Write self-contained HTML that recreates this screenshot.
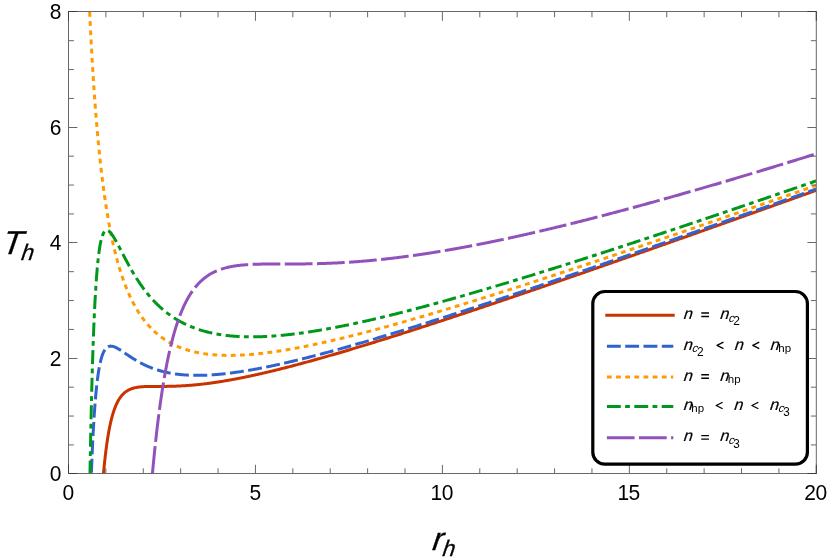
<!DOCTYPE html>
<html><head><meta charset="utf-8"><title>T_h vs r_h</title>
<style>html,body{margin:0;padding:0;background:#fff}body{width:830px;height:559px;overflow:hidden;position:relative;font-family:"Liberation Sans",sans-serif}</style>
</head><body>
<svg width="830" height="559" viewBox="0 0 830 559" style="position:absolute;left:0;top:0;will-change:transform">
<rect width="830" height="559" fill="#fff"/>
<defs><clipPath id="cp"><rect x="68.5" y="11.5" width="747.8" height="462.0"/></clipPath></defs>
<g clip-path="url(#cp)" fill="none" stroke-linejoin="round">
<path d="M103.46 473.80 L103.56 472.68 L103.69 471.23 L103.83 469.80 L103.96 468.41 L104.10 467.03 L104.23 465.69 L104.37 464.36 L104.50 463.06 L104.64 461.78 L104.77 460.53 L104.90 459.30 L105.04 458.09 L105.17 456.90 L105.31 455.73 L105.44 454.58 L105.58 453.45 L105.71 452.34 L105.85 451.25 L105.98 450.18 L106.12 449.13 L106.25 448.10 L106.39 447.08 L106.52 446.08 L106.66 445.10 L106.79 444.14 L106.93 443.19 L107.06 442.26 L107.19 441.34 L107.33 440.44 L107.46 439.56 L107.60 438.69 L107.73 437.83 L107.87 436.99 L108.00 436.17 L108.14 435.35 L108.27 434.56 L108.47 433.38 L108.68 432.24 L108.88 431.12 L109.08 430.04 L109.28 428.98 L109.48 427.94 L109.69 426.93 L109.89 425.95 L110.09 424.99 L110.29 424.06 L110.49 423.14 L110.70 422.25 L110.90 421.38 L111.10 420.54 L111.30 419.71 L111.50 418.90 L111.71 418.12 L111.98 417.09 L112.25 416.11 L112.51 415.15 L112.78 414.23 L113.05 413.33 L113.32 412.46 L113.59 411.62 L113.86 410.81 L114.13 410.02 L114.40 409.26 L114.74 408.34 L115.07 407.46 L115.41 406.61 L115.75 405.79 L116.08 405.01 L116.42 404.25 L116.83 403.39 L117.23 402.56 L117.63 401.77 L118.04 401.02 L118.44 400.31 L118.91 399.51 L119.38 398.76 L119.86 398.05 L120.33 397.38 L120.87 396.65 L121.40 395.97 L121.94 395.33 L122.48 394.73 L123.09 394.10 L123.69 393.51 L124.30 392.97 L124.97 392.40 L125.65 391.88 L126.32 391.40 L126.99 390.96 L127.74 390.51 L128.48 390.10 L129.22 389.73 L129.96 389.39 L130.70 389.08 L131.51 388.77 L132.31 388.50 L133.12 388.25 L133.93 388.02 L134.74 387.82 L135.55 387.64 L136.36 387.48 L137.16 387.33 L137.97 387.21 L138.78 387.09 L139.59 386.99 L140.40 386.90 L141.20 386.82 L142.01 386.76 L142.82 386.70 L143.63 386.65 L144.44 386.60 L145.25 386.56 L146.05 386.53 L146.86 386.51 L147.67 386.48 L148.48 386.47 L149.29 386.45 L150.09 386.44 L150.90 386.43 L151.71 386.42 L152.52 386.42 L153.33 386.41 L154.14 386.41 L154.94 386.41 L155.75 386.41 L156.56 386.41 L157.37 386.41 L158.18 386.41 L158.98 386.41 L159.79 386.41 L160.60 386.41 L161.41 386.41 L162.22 386.40 L163.03 386.40 L163.83 386.40 L164.64 386.39 L165.45 386.38 L166.26 386.38 L167.07 386.37 L167.87 386.35 L168.68 386.34 L169.49 386.33 L170.30 386.31 L171.11 386.29 L171.91 386.27 L172.72 386.25 L173.53 386.23 L174.34 386.20 L175.15 386.18 L175.96 386.15 L176.76 386.12 L177.57 386.09 L178.38 386.05 L179.19 386.01 L180.00 385.98 L181.09 385.92 L181.94 385.87 L182.79 385.83 L183.64 385.78 L184.49 385.73 L185.33 385.67 L186.18 385.61 L187.03 385.56 L187.88 385.49 L188.73 385.43 L189.57 385.37 L190.42 385.30 L191.27 385.23 L192.12 385.16 L192.97 385.08 L193.82 385.01 L194.66 384.93 L195.51 384.85 L196.36 384.76 L197.21 384.68 L198.06 384.59 L198.90 384.51 L199.75 384.41 L200.60 384.32 L201.45 384.23 L202.30 384.13 L203.14 384.03 L203.99 383.93 L204.84 383.83 L205.69 383.72 L206.54 383.62 L207.38 383.51 L208.23 383.40 L209.08 383.29 L209.93 383.17 L210.78 383.06 L211.62 382.94 L212.47 382.82 L213.32 382.70 L214.17 382.58 L215.02 382.46 L215.86 382.33 L216.71 382.20 L217.56 382.07 L218.41 381.94 L219.26 381.81 L220.11 381.68 L220.95 381.54 L221.80 381.40 L222.65 381.27 L223.50 381.13 L224.35 380.98 L225.19 380.84 L226.04 380.70 L226.89 380.55 L227.74 380.40 L228.59 380.25 L229.43 380.10 L230.28 379.95 L231.13 379.80 L231.98 379.64 L232.83 379.49 L233.67 379.33 L234.52 379.17 L235.37 379.01 L236.22 378.85 L237.07 378.69 L237.91 378.53 L238.76 378.36 L239.61 378.19 L240.46 378.03 L241.31 377.86 L242.16 377.69 L243.00 377.52 L243.85 377.35 L244.70 377.17 L245.55 377.00 L246.40 376.82 L247.24 376.65 L248.09 376.47 L248.94 376.29 L249.79 376.11 L250.64 375.93 L251.48 375.75 L252.33 375.56 L253.18 375.38 L254.03 375.19 L254.88 375.01 L255.72 374.82 L256.57 374.63 L257.42 374.44 L258.27 374.25 L259.12 374.06 L259.96 373.87 L260.81 373.68 L261.66 373.48 L262.51 373.29 L263.36 373.09 L264.21 372.90 L265.05 372.70 L265.90 372.50 L266.75 372.30 L267.60 372.10 L268.45 371.90 L269.29 371.70 L270.14 371.50 L270.99 371.29 L271.84 371.09 L272.69 370.88 L273.53 370.68 L274.38 370.47 L275.23 370.26 L276.08 370.06 L276.93 369.85 L277.77 369.64 L278.62 369.43 L279.47 369.21 L280.32 369.00 L281.17 368.79 L282.01 368.58 L282.86 368.36 L283.71 368.15 L284.56 367.93 L285.41 367.72 L286.25 367.50 L287.10 367.28 L287.95 367.06 L288.80 366.84 L289.65 366.63 L290.50 366.41 L291.34 366.18 L292.19 365.96 L293.04 365.74 L293.89 365.52 L294.74 365.29 L295.58 365.07 L296.43 364.85 L297.28 364.62 L298.13 364.40 L298.98 364.17 L299.82 363.94 L300.67 363.71 L301.52 363.49 L302.37 363.26 L303.22 363.03 L304.06 362.80 L304.91 362.57 L305.76 362.34 L306.61 362.11 L307.46 361.87 L308.30 361.64 L309.15 361.41 L310.00 361.18 L310.85 360.94 L311.70 360.71 L312.55 360.47 L313.39 360.24 L314.24 360.00 L315.09 359.76 L315.94 359.53 L316.79 359.29 L317.63 359.05 L318.48 358.81 L319.33 358.57 L320.18 358.34 L321.03 358.10 L321.87 357.86 L322.72 357.61 L323.57 357.37 L324.42 357.13 L325.27 356.89 L326.11 356.65 L326.96 356.40 L327.81 356.16 L328.66 355.92 L329.51 355.67 L330.35 355.43 L331.20 355.18 L332.05 354.94 L332.90 354.69 L333.75 354.45 L334.60 354.20 L335.44 353.95 L336.29 353.70 L337.14 353.46 L337.99 353.21 L338.84 352.96 L339.68 352.71 L340.53 352.46 L341.38 352.21 L342.23 351.96 L343.08 351.71 L343.92 351.46 L344.77 351.21 L345.62 350.96 L346.47 350.71 L347.32 350.45 L348.16 350.20 L349.01 349.95 L349.86 349.70 L350.71 349.44 L351.56 349.19 L352.40 348.93 L353.25 348.68 L354.10 348.42 L354.95 348.17 L355.80 347.91 L356.64 347.66 L357.49 347.40 L358.34 347.14 L359.19 346.89 L360.04 346.63 L360.89 346.37 L361.73 346.12 L362.58 345.86 L363.43 345.60 L364.28 345.34 L365.13 345.08 L365.97 344.82 L366.82 344.56 L367.67 344.30 L368.52 344.04 L369.37 343.78 L370.21 343.52 L371.06 343.26 L371.91 343.00 L372.76 342.74 L373.61 342.48 L374.45 342.21 L375.30 341.95 L376.15 341.69 L377.00 341.43 L377.85 341.16 L378.69 340.90 L379.54 340.64 L380.39 340.37 L381.24 340.11 L382.09 339.84 L382.94 339.58 L383.78 339.31 L384.63 339.05 L385.48 338.78 L386.33 338.52 L387.18 338.25 L388.02 337.99 L388.87 337.72 L389.72 337.45 L390.57 337.19 L391.42 336.92 L392.26 336.65 L393.11 336.39 L393.96 336.12 L394.81 335.85 L395.66 335.58 L396.50 335.31 L397.35 335.04 L398.20 334.78 L399.05 334.51 L399.90 334.24 L400.74 333.97 L401.59 333.70 L402.44 333.43 L403.29 333.16 L404.14 332.89 L404.99 332.62 L405.83 332.35 L406.68 332.08 L407.53 331.81 L408.38 331.53 L409.23 331.26 L410.07 330.99 L410.92 330.72 L411.77 330.45 L412.62 330.17 L413.47 329.90 L414.31 329.63 L415.16 329.36 L416.01 329.08 L416.86 328.81 L417.71 328.54 L418.55 328.26 L419.40 327.99 L420.25 327.72 L421.10 327.44 L421.95 327.17 L422.79 326.89 L423.64 326.62 L424.49 326.34 L425.34 326.07 L426.19 325.79 L427.03 325.52 L427.88 325.24 L428.73 324.97 L429.58 324.69 L430.43 324.41 L431.28 324.14 L432.12 323.86 L432.97 323.58 L433.82 323.31 L434.67 323.03 L435.52 322.75 L436.36 322.48 L437.21 322.20 L438.06 321.92 L438.91 321.64 L439.76 321.37 L440.60 321.09 L441.45 320.81 L442.30 320.53 L443.15 320.25 L444.00 319.98 L444.84 319.70 L445.69 319.42 L446.54 319.14 L447.39 318.86 L448.24 318.58 L449.08 318.30 L449.93 318.02 L450.78 317.74 L451.63 317.46 L452.48 317.18 L453.33 316.90 L454.17 316.62 L455.02 316.34 L455.87 316.06 L456.72 315.78 L457.57 315.50 L458.41 315.22 L459.26 314.94 L460.11 314.66 L460.96 314.37 L461.81 314.09 L462.65 313.81 L463.50 313.53 L464.35 313.25 L465.20 312.96 L466.05 312.68 L466.89 312.40 L467.74 312.12 L468.59 311.84 L469.44 311.55 L470.29 311.27 L471.13 310.99 L471.98 310.70 L472.83 310.42 L473.68 310.14 L474.53 309.85 L475.38 309.57 L476.22 309.29 L477.07 309.00 L477.92 308.72 L478.77 308.44 L479.62 308.15 L480.46 307.87 L481.31 307.58 L482.16 307.30 L483.01 307.01 L483.86 306.73 L484.70 306.44 L485.55 306.16 L486.40 305.87 L487.25 305.59 L488.10 305.30 L488.94 305.02 L489.79 304.73 L490.64 304.45 L491.49 304.16 L492.34 303.88 L493.18 303.59 L494.03 303.30 L494.88 303.02 L495.73 302.73 L496.58 302.45 L497.42 302.16 L498.27 301.87 L499.12 301.59 L499.97 301.30 L500.82 301.01 L501.67 300.73 L502.51 300.44 L503.36 300.15 L504.21 299.86 L505.06 299.58 L505.91 299.29 L506.75 299.00 L507.60 298.72 L508.45 298.43 L509.30 298.14 L510.15 297.85 L510.99 297.56 L511.84 297.28 L512.69 296.99 L513.54 296.70 L514.39 296.41 L515.23 296.12 L516.08 295.83 L516.93 295.55 L517.78 295.26 L518.63 294.97 L519.47 294.68 L520.32 294.39 L521.17 294.10 L522.02 293.81 L522.87 293.52 L523.72 293.23 L524.56 292.94 L525.41 292.66 L526.26 292.37 L527.11 292.08 L527.96 291.79 L528.80 291.50 L529.65 291.21 L530.50 290.92 L531.35 290.63 L532.20 290.34 L533.04 290.05 L533.89 289.76 L534.74 289.47 L535.59 289.18 L536.44 288.88 L537.28 288.59 L538.13 288.30 L538.98 288.01 L539.83 287.72 L540.68 287.43 L541.52 287.14 L542.37 286.85 L543.22 286.56 L544.07 286.27 L544.92 285.98 L545.77 285.68 L546.61 285.39 L547.46 285.10 L548.31 284.81 L549.16 284.52 L550.01 284.23 L550.85 283.93 L551.70 283.64 L552.55 283.35 L553.40 283.06 L554.25 282.77 L555.09 282.47 L555.94 282.18 L556.79 281.89 L557.64 281.60 L558.49 281.30 L559.33 281.01 L560.18 280.72 L561.03 280.43 L561.88 280.13 L562.73 279.84 L563.57 279.55 L564.42 279.26 L565.27 278.96 L566.12 278.67 L566.97 278.38 L567.81 278.08 L568.66 277.79 L569.51 277.50 L570.36 277.20 L571.21 276.91 L572.06 276.62 L572.90 276.32 L573.75 276.03 L574.60 275.74 L575.45 275.44 L576.30 275.15 L577.14 274.85 L577.99 274.56 L578.84 274.27 L579.69 273.97 L580.54 273.68 L581.38 273.38 L582.23 273.09 L583.08 272.80 L583.93 272.50 L584.78 272.21 L585.62 271.91 L586.47 271.62 L587.32 271.32 L588.17 271.03 L589.02 270.73 L589.86 270.44 L590.71 270.14 L591.56 269.85 L592.41 269.55 L593.26 269.26 L594.11 268.96 L594.95 268.67 L595.80 268.37 L596.65 268.08 L597.50 267.78 L598.35 267.49 L599.19 267.19 L600.04 266.90 L600.89 266.60 L601.74 266.31 L602.59 266.01 L603.43 265.71 L604.28 265.42 L605.13 265.12 L605.98 264.83 L606.83 264.53 L607.67 264.24 L608.52 263.94 L609.37 263.64 L610.22 263.35 L611.07 263.05 L611.91 262.76 L612.76 262.46 L613.61 262.16 L614.46 261.87 L615.31 261.57 L616.15 261.27 L617.00 260.98 L617.85 260.68 L618.70 260.38 L619.55 260.09 L620.40 259.79 L621.24 259.49 L622.09 259.20 L622.94 258.90 L623.79 258.60 L624.64 258.31 L625.48 258.01 L626.33 257.71 L627.18 257.42 L628.03 257.12 L628.88 256.82 L629.72 256.52 L630.57 256.23 L631.42 255.93 L632.27 255.63 L633.12 255.34 L633.96 255.04 L634.81 254.74 L635.66 254.44 L636.51 254.15 L637.36 253.85 L638.20 253.55 L639.05 253.25 L639.90 252.95 L640.75 252.66 L641.60 252.36 L642.45 252.06 L643.29 251.76 L644.14 251.47 L644.99 251.17 L645.84 250.87 L646.69 250.57 L647.53 250.27 L648.38 249.97 L649.23 249.68 L650.08 249.38 L650.93 249.08 L651.77 248.78 L652.62 248.48 L653.47 248.18 L654.32 247.89 L655.17 247.59 L656.01 247.29 L656.86 246.99 L657.71 246.69 L658.56 246.39 L659.41 246.09 L660.25 245.80 L661.10 245.50 L661.95 245.20 L662.80 244.90 L663.65 244.60 L664.50 244.30 L665.34 244.00 L666.19 243.70 L667.04 243.40 L667.89 243.11 L668.74 242.81 L669.58 242.51 L670.43 242.21 L671.28 241.91 L672.13 241.61 L672.98 241.31 L673.82 241.01 L674.67 240.71 L675.52 240.41 L676.37 240.11 L677.22 239.81 L678.06 239.51 L678.91 239.21 L679.76 238.91 L680.61 238.61 L681.46 238.31 L682.30 238.02 L683.15 237.72 L684.00 237.42 L684.85 237.12 L685.70 236.82 L686.54 236.52 L687.39 236.22 L688.24 235.92 L689.09 235.62 L689.94 235.32 L690.79 235.02 L691.63 234.72 L692.48 234.42 L693.33 234.12 L694.18 233.82 L695.03 233.52 L695.87 233.22 L696.72 232.91 L697.57 232.61 L698.42 232.31 L699.27 232.01 L700.11 231.71 L700.96 231.41 L701.81 231.11 L702.66 230.81 L703.51 230.51 L704.35 230.21 L705.20 229.91 L706.05 229.61 L706.90 229.31 L707.75 229.01 L708.59 228.71 L709.44 228.41 L710.29 228.11 L711.14 227.80 L711.99 227.50 L712.84 227.20 L713.68 226.90 L714.53 226.60 L715.38 226.30 L716.23 226.00 L717.08 225.70 L717.92 225.40 L718.77 225.10 L719.62 224.79 L720.47 224.49 L721.32 224.19 L722.16 223.89 L723.01 223.59 L723.86 223.29 L724.71 222.99 L725.56 222.69 L726.40 222.38 L727.25 222.08 L728.10 221.78 L728.95 221.48 L729.80 221.18 L730.64 220.88 L731.49 220.58 L732.34 220.27 L733.19 219.97 L734.04 219.67 L734.89 219.37 L735.73 219.07 L736.58 218.77 L737.43 218.46 L738.28 218.16 L739.13 217.86 L739.97 217.56 L740.82 217.26 L741.67 216.95 L742.52 216.65 L743.37 216.35 L744.21 216.05 L745.06 215.75 L745.91 215.44 L746.76 215.14 L747.61 214.84 L748.45 214.54 L749.30 214.24 L750.15 213.93 L751.00 213.63 L751.85 213.33 L752.69 213.03 L753.54 212.73 L754.39 212.42 L755.24 212.12 L756.09 211.82 L756.93 211.52 L757.78 211.21 L758.63 210.91 L759.48 210.61 L760.33 210.31 L761.18 210.00 L762.02 209.70 L762.87 209.40 L763.72 209.10 L764.57 208.79 L765.42 208.49 L766.26 208.19 L767.11 207.89 L767.96 207.58 L768.81 207.28 L769.66 206.98 L770.50 206.67 L771.35 206.37 L772.20 206.07 L773.05 205.77 L773.90 205.46 L774.74 205.16 L775.59 204.86 L776.44 204.55 L777.29 204.25 L778.14 203.95 L778.98 203.65 L779.83 203.34 L780.68 203.04 L781.53 202.74 L782.38 202.43 L783.23 202.13 L784.07 201.83 L784.92 201.52 L785.77 201.22 L786.62 200.92 L787.47 200.61 L788.31 200.31 L789.16 200.01 L790.01 199.71 L790.86 199.40 L791.71 199.10 L792.55 198.80 L793.40 198.49 L794.25 198.19 L795.10 197.88 L795.95 197.58 L796.79 197.28 L797.64 196.97 L798.49 196.67 L799.34 196.37 L800.19 196.06 L801.03 195.76 L801.88 195.46 L802.73 195.15 L803.58 194.85 L804.43 194.55 L805.28 194.24 L806.12 193.94 L806.97 193.63 L807.82 193.33 L808.67 193.03 L809.52 192.72 L810.36 192.42 L811.21 192.12 L812.06 191.81 L812.91 191.51 L813.76 191.20 L814.60 190.90 L815.45 190.60 L816.30 190.29" stroke="#CA3300" stroke-width="3.0"/>
<path d="M91.38 473.80 L91.44 472.28 L91.50 470.47 L91.57 468.69 L91.64 466.93 L91.70 465.20 L91.77 463.49 L91.84 461.81 L91.91 460.15 L91.97 458.51 L92.04 456.89 L92.11 455.30 L92.18 453.73 L92.24 452.19 L92.31 450.66 L92.38 449.16 L92.45 447.68 L92.51 446.21 L92.58 444.77 L92.65 443.35 L92.71 441.95 L92.78 440.57 L92.85 439.21 L92.92 437.86 L92.98 436.54 L93.05 435.23 L93.12 433.94 L93.19 432.67 L93.25 431.42 L93.32 430.18 L93.39 428.97 L93.46 427.76 L93.52 426.58 L93.59 425.41 L93.66 424.26 L93.73 423.12 L93.79 422.00 L93.86 420.89 L93.93 419.80 L93.99 418.73 L94.06 417.67 L94.13 416.62 L94.20 415.59 L94.26 414.57 L94.33 413.56 L94.40 412.57 L94.47 411.60 L94.53 410.63 L94.60 409.68 L94.67 408.75 L94.74 407.82 L94.80 406.91 L94.87 406.01 L94.94 405.12 L95.00 404.25 L95.07 403.38 L95.14 402.53 L95.21 401.69 L95.27 400.86 L95.34 400.04 L95.41 399.24 L95.54 397.66 L95.68 396.12 L95.81 394.62 L95.95 393.17 L96.08 391.75 L96.22 390.37 L96.35 389.03 L96.49 387.72 L96.62 386.45 L96.76 385.21 L96.89 384.01 L97.03 382.84 L97.16 381.70 L97.29 380.59 L97.43 379.51 L97.56 378.46 L97.70 377.44 L97.83 376.44 L97.97 375.47 L98.10 374.53 L98.24 373.62 L98.37 372.73 L98.51 371.86 L98.64 371.02 L98.78 370.20 L98.91 369.40 L99.11 368.24 L99.31 367.13 L99.52 366.07 L99.72 365.05 L99.92 364.07 L100.12 363.13 L100.33 362.24 L100.53 361.38 L100.73 360.55 L100.93 359.76 L101.20 358.76 L101.47 357.82 L101.74 356.93 L102.01 356.09 L102.28 355.30 L102.61 354.38 L102.95 353.53 L103.29 352.75 L103.69 351.88 L104.10 351.10 L104.50 350.39 L104.97 349.66 L105.51 348.93 L106.05 348.30 L106.66 347.71 L107.33 347.19 L108.07 346.75 L108.81 346.43 L109.62 346.22 L110.43 346.12 L111.24 346.13 L112.04 346.22 L112.85 346.38 L113.66 346.61 L114.47 346.90 L115.21 347.21 L115.95 347.55 L116.69 347.92 L117.43 348.32 L118.17 348.74 L118.91 349.18 L119.65 349.63 L120.39 350.10 L121.07 350.54 L121.74 350.98 L122.41 351.43 L123.09 351.88 L123.76 352.33 L124.44 352.79 L125.11 353.25 L125.78 353.71 L126.46 354.16 L127.13 354.62 L127.80 355.08 L128.48 355.53 L129.15 355.98 L129.82 356.43 L130.50 356.87 L131.17 357.31 L131.84 357.74 L132.58 358.21 L133.33 358.68 L134.07 359.14 L134.81 359.59 L135.55 360.04 L136.29 360.48 L137.03 360.91 L137.77 361.34 L138.51 361.75 L139.25 362.16 L139.99 362.57 L140.73 362.96 L141.47 363.35 L142.21 363.73 L142.96 364.10 L143.70 364.47 L144.44 364.83 L145.18 365.18 L145.92 365.52 L146.66 365.86 L147.40 366.18 L148.14 366.50 L148.88 366.82 L149.62 367.12 L150.43 367.45 L151.24 367.77 L152.05 368.08 L152.86 368.38 L153.66 368.67 L154.47 368.96 L155.28 369.24 L156.09 369.51 L156.90 369.77 L157.70 370.02 L158.51 370.27 L159.32 370.51 L160.13 370.74 L160.94 370.97 L161.75 371.19 L162.55 371.40 L163.36 371.60 L164.17 371.80 L164.98 371.99 L165.79 372.18 L166.59 372.36 L167.40 372.53 L168.21 372.70 L169.02 372.86 L169.83 373.01 L170.64 373.16 L171.44 373.31 L172.25 373.44 L173.06 373.58 L173.87 373.70 L174.68 373.82 L175.48 373.94 L176.29 374.05 L177.10 374.16 L177.91 374.26 L178.72 374.35 L179.53 374.44 L180.33 374.53 L181.52 374.65 L182.37 374.73 L183.21 374.80 L184.06 374.87 L184.91 374.93 L185.76 374.99 L186.61 375.04 L187.45 375.09 L188.30 375.14 L189.15 375.18 L190.00 375.22 L190.85 375.25 L191.69 375.28 L192.54 375.30 L193.39 375.32 L194.24 375.34 L195.09 375.35 L195.94 375.36 L196.78 375.36 L197.63 375.36 L198.48 375.36 L199.33 375.35 L200.18 375.34 L201.02 375.33 L201.87 375.31 L202.72 375.29 L203.57 375.27 L204.42 375.24 L205.26 375.21 L206.11 375.18 L206.96 375.14 L207.81 375.10 L208.66 375.06 L209.50 375.01 L210.35 374.96 L211.20 374.91 L212.05 374.86 L212.90 374.80 L213.74 374.74 L214.59 374.68 L215.44 374.61 L216.29 374.55 L217.14 374.48 L217.99 374.40 L218.83 374.33 L219.68 374.25 L220.53 374.17 L221.38 374.09 L222.23 374.00 L223.07 373.92 L223.92 373.83 L224.77 373.74 L225.62 373.64 L226.47 373.55 L227.31 373.45 L228.16 373.35 L229.01 373.24 L229.86 373.14 L230.71 373.03 L231.55 372.93 L232.40 372.81 L233.25 372.70 L234.10 372.59 L234.95 372.47 L235.79 372.35 L236.64 372.23 L237.49 372.11 L238.34 371.99 L239.19 371.86 L240.04 371.74 L240.88 371.61 L241.73 371.48 L242.58 371.34 L243.43 371.21 L244.28 371.07 L245.12 370.94 L245.97 370.80 L246.82 370.66 L247.67 370.52 L248.52 370.37 L249.36 370.23 L250.21 370.08 L251.06 369.93 L251.91 369.79 L252.76 369.63 L253.60 369.48 L254.45 369.33 L255.30 369.17 L256.15 369.02 L257.00 368.86 L257.84 368.70 L258.69 368.54 L259.54 368.38 L260.39 368.22 L261.24 368.05 L262.08 367.89 L262.93 367.72 L263.78 367.55 L264.63 367.39 L265.48 367.22 L266.33 367.04 L267.17 366.87 L268.02 366.70 L268.87 366.52 L269.72 366.35 L270.57 366.17 L271.41 365.99 L272.26 365.81 L273.11 365.63 L273.96 365.45 L274.81 365.27 L275.65 365.09 L276.50 364.90 L277.35 364.72 L278.20 364.53 L279.05 364.34 L279.89 364.16 L280.74 363.97 L281.59 363.78 L282.44 363.59 L283.29 363.39 L284.13 363.20 L284.98 363.01 L285.83 362.81 L286.68 362.62 L287.53 362.42 L288.38 362.22 L289.22 362.03 L290.07 361.83 L290.92 361.63 L291.77 361.43 L292.62 361.22 L293.46 361.02 L294.31 360.82 L295.16 360.62 L296.01 360.41 L296.86 360.21 L297.70 360.00 L298.55 359.79 L299.40 359.58 L300.25 359.38 L301.10 359.17 L301.94 358.96 L302.79 358.75 L303.64 358.53 L304.49 358.32 L305.34 358.11 L306.18 357.90 L307.03 357.68 L307.88 357.47 L308.73 357.25 L309.58 357.04 L310.43 356.82 L311.27 356.60 L312.12 356.38 L312.97 356.16 L313.82 355.95 L314.67 355.73 L315.51 355.50 L316.36 355.28 L317.21 355.06 L318.06 354.84 L318.91 354.62 L319.75 354.39 L320.60 354.17 L321.45 353.94 L322.30 353.72 L323.15 353.49 L323.99 353.27 L324.84 353.04 L325.69 352.81 L326.54 352.58 L327.39 352.35 L328.23 352.12 L329.08 351.90 L329.93 351.66 L330.78 351.43 L331.63 351.20 L332.47 350.97 L333.32 350.74 L334.17 350.51 L335.02 350.27 L335.87 350.04 L336.72 349.80 L337.56 349.57 L338.41 349.33 L339.26 349.10 L340.11 348.86 L340.96 348.63 L341.80 348.39 L342.65 348.15 L343.50 347.91 L344.35 347.67 L345.20 347.44 L346.04 347.20 L346.89 346.96 L347.74 346.72 L348.59 346.48 L349.44 346.23 L350.28 345.99 L351.13 345.75 L351.98 345.51 L352.83 345.27 L353.68 345.02 L354.52 344.78 L355.37 344.53 L356.22 344.29 L357.07 344.05 L357.92 343.80 L358.77 343.55 L359.61 343.31 L360.46 343.06 L361.31 342.82 L362.16 342.57 L363.01 342.32 L363.85 342.07 L364.70 341.83 L365.55 341.58 L366.40 341.33 L367.25 341.08 L368.09 340.83 L368.94 340.58 L369.79 340.33 L370.64 340.08 L371.49 339.83 L372.33 339.58 L373.18 339.32 L374.03 339.07 L374.88 338.82 L375.73 338.57 L376.57 338.31 L377.42 338.06 L378.27 337.81 L379.12 337.55 L379.97 337.30 L380.82 337.04 L381.66 336.79 L382.51 336.53 L383.36 336.28 L384.21 336.02 L385.06 335.77 L385.90 335.51 L386.75 335.25 L387.60 335.00 L388.45 334.74 L389.30 334.48 L390.14 334.22 L390.99 333.97 L391.84 333.71 L392.69 333.45 L393.54 333.19 L394.38 332.93 L395.23 332.67 L396.08 332.41 L396.93 332.15 L397.78 331.89 L398.62 331.63 L399.47 331.37 L400.32 331.11 L401.17 330.85 L402.02 330.59 L402.86 330.32 L403.71 330.06 L404.56 329.80 L405.41 329.54 L406.26 329.27 L407.11 329.01 L407.95 328.75 L408.80 328.48 L409.65 328.22 L410.50 327.96 L411.35 327.69 L412.19 327.43 L413.04 327.16 L413.89 326.90 L414.74 326.63 L415.59 326.37 L416.43 326.10 L417.28 325.83 L418.13 325.57 L418.98 325.30 L419.83 325.04 L420.67 324.77 L421.52 324.50 L422.37 324.23 L423.22 323.97 L424.07 323.70 L424.91 323.43 L425.76 323.16 L426.61 322.89 L427.46 322.63 L428.31 322.36 L429.16 322.09 L430.00 321.82 L430.85 321.55 L431.70 321.28 L432.55 321.01 L433.40 320.74 L434.24 320.47 L435.09 320.20 L435.94 319.93 L436.79 319.66 L437.64 319.39 L438.48 319.12 L439.33 318.85 L440.18 318.57 L441.03 318.30 L441.88 318.03 L442.72 317.76 L443.57 317.49 L444.42 317.21 L445.27 316.94 L446.12 316.67 L446.96 316.40 L447.81 316.12 L448.66 315.85 L449.51 315.58 L450.36 315.30 L451.20 315.03 L452.05 314.76 L452.90 314.48 L453.75 314.21 L454.60 313.93 L455.45 313.66 L456.29 313.38 L457.14 313.11 L457.99 312.83 L458.84 312.56 L459.69 312.28 L460.53 312.01 L461.38 311.73 L462.23 311.45 L463.08 311.18 L463.93 310.90 L464.77 310.63 L465.62 310.35 L466.47 310.07 L467.32 309.80 L468.17 309.52 L469.01 309.24 L469.86 308.96 L470.71 308.69 L471.56 308.41 L472.41 308.13 L473.25 307.85 L474.10 307.58 L474.95 307.30 L475.80 307.02 L476.65 306.74 L477.50 306.46 L478.34 306.18 L479.19 305.90 L480.04 305.63 L480.89 305.35 L481.74 305.07 L482.58 304.79 L483.43 304.51 L484.28 304.23 L485.13 303.95 L485.98 303.67 L486.82 303.39 L487.67 303.11 L488.52 302.83 L489.37 302.55 L490.22 302.27 L491.06 301.99 L491.91 301.71 L492.76 301.42 L493.61 301.14 L494.46 300.86 L495.30 300.58 L496.15 300.30 L497.00 300.02 L497.85 299.74 L498.70 299.45 L499.55 299.17 L500.39 298.89 L501.24 298.61 L502.09 298.33 L502.94 298.04 L503.79 297.76 L504.63 297.48 L505.48 297.20 L506.33 296.91 L507.18 296.63 L508.03 296.35 L508.87 296.06 L509.72 295.78 L510.57 295.50 L511.42 295.21 L512.27 294.93 L513.11 294.65 L513.96 294.36 L514.81 294.08 L515.66 293.79 L516.51 293.51 L517.35 293.22 L518.20 292.94 L519.05 292.66 L519.90 292.37 L520.75 292.09 L521.59 291.80 L522.44 291.52 L523.29 291.23 L524.14 290.95 L524.99 290.66 L525.84 290.38 L526.68 290.09 L527.53 289.80 L528.38 289.52 L529.23 289.23 L530.08 288.95 L530.92 288.66 L531.77 288.38 L532.62 288.09 L533.47 287.80 L534.32 287.52 L535.16 287.23 L536.01 286.94 L536.86 286.66 L537.71 286.37 L538.56 286.08 L539.40 285.80 L540.25 285.51 L541.10 285.22 L541.95 284.93 L542.80 284.65 L543.64 284.36 L544.49 284.07 L545.34 283.79 L546.19 283.50 L547.04 283.21 L547.89 282.92 L548.73 282.63 L549.58 282.35 L550.43 282.06 L551.28 281.77 L552.13 281.48 L552.97 281.19 L553.82 280.91 L554.67 280.62 L555.52 280.33 L556.37 280.04 L557.21 279.75 L558.06 279.46 L558.91 279.17 L559.76 278.88 L560.61 278.59 L561.45 278.31 L562.30 278.02 L563.15 277.73 L564.00 277.44 L564.85 277.15 L565.69 276.86 L566.54 276.57 L567.39 276.28 L568.24 275.99 L569.09 275.70 L569.94 275.41 L570.78 275.12 L571.63 274.83 L572.48 274.54 L573.33 274.25 L574.18 273.96 L575.02 273.67 L575.87 273.38 L576.72 273.09 L577.57 272.80 L578.42 272.51 L579.26 272.22 L580.11 271.92 L580.96 271.63 L581.81 271.34 L582.66 271.05 L583.50 270.76 L584.35 270.47 L585.20 270.18 L586.05 269.89 L586.90 269.60 L587.74 269.30 L588.59 269.01 L589.44 268.72 L590.29 268.43 L591.14 268.14 L591.98 267.85 L592.83 267.55 L593.68 267.26 L594.53 266.97 L595.38 266.68 L596.23 266.39 L597.07 266.09 L597.92 265.80 L598.77 265.51 L599.62 265.22 L600.47 264.92 L601.31 264.63 L602.16 264.34 L603.01 264.05 L603.86 263.75 L604.71 263.46 L605.55 263.17 L606.40 262.87 L607.25 262.58 L608.10 262.29 L608.95 262.00 L609.79 261.70 L610.64 261.41 L611.49 261.12 L612.34 260.82 L613.19 260.53 L614.03 260.24 L614.88 259.94 L615.73 259.65 L616.58 259.35 L617.43 259.06 L618.28 258.77 L619.12 258.47 L619.97 258.18 L620.82 257.89 L621.67 257.59 L622.52 257.30 L623.36 257.00 L624.21 256.71 L625.06 256.42 L625.91 256.12 L626.76 255.83 L627.60 255.53 L628.45 255.24 L629.30 254.94 L630.15 254.65 L631.00 254.35 L631.84 254.06 L632.69 253.77 L633.54 253.47 L634.39 253.18 L635.24 252.88 L636.08 252.59 L636.93 252.29 L637.78 252.00 L638.63 251.70 L639.48 251.41 L640.33 251.11 L641.17 250.82 L642.02 250.52 L642.87 250.22 L643.72 249.93 L644.57 249.63 L645.41 249.34 L646.26 249.04 L647.11 248.75 L647.96 248.45 L648.81 248.16 L649.65 247.86 L650.50 247.56 L651.35 247.27 L652.20 246.97 L653.05 246.68 L653.89 246.38 L654.74 246.08 L655.59 245.79 L656.44 245.49 L657.29 245.20 L658.13 244.90 L658.98 244.60 L659.83 244.31 L660.68 244.01 L661.53 243.71 L662.37 243.42 L663.22 243.12 L664.07 242.83 L664.92 242.53 L665.77 242.23 L666.62 241.94 L667.46 241.64 L668.31 241.34 L669.16 241.04 L670.01 240.75 L670.86 240.45 L671.70 240.15 L672.55 239.86 L673.40 239.56 L674.25 239.26 L675.10 238.97 L675.94 238.67 L676.79 238.37 L677.64 238.07 L678.49 237.78 L679.34 237.48 L680.18 237.18 L681.03 236.88 L681.88 236.59 L682.73 236.29 L683.58 235.99 L684.42 235.69 L685.27 235.40 L686.12 235.10 L686.97 234.80 L687.82 234.50 L688.67 234.21 L689.51 233.91 L690.36 233.61 L691.21 233.31 L692.06 233.01 L692.91 232.72 L693.75 232.42 L694.60 232.12 L695.45 231.82 L696.30 231.52 L697.15 231.23 L697.99 230.93 L698.84 230.63 L699.69 230.33 L700.54 230.03 L701.39 229.73 L702.23 229.44 L703.08 229.14 L703.93 228.84 L704.78 228.54 L705.63 228.24 L706.47 227.94 L707.32 227.64 L708.17 227.35 L709.02 227.05 L709.87 226.75 L710.72 226.45 L711.56 226.15 L712.41 225.85 L713.26 225.55 L714.11 225.25 L714.96 224.96 L715.80 224.66 L716.65 224.36 L717.50 224.06 L718.35 223.76 L719.20 223.46 L720.04 223.16 L720.89 222.86 L721.74 222.56 L722.59 222.26 L723.44 221.96 L724.28 221.66 L725.13 221.36 L725.98 221.07 L726.83 220.77 L727.68 220.47 L728.52 220.17 L729.37 219.87 L730.22 219.57 L731.07 219.27 L731.92 218.97 L732.76 218.67 L733.61 218.37 L734.46 218.07 L735.31 217.77 L736.16 217.47 L737.01 217.17 L737.85 216.87 L738.70 216.57 L739.55 216.27 L740.40 215.97 L741.25 215.67 L742.09 215.37 L742.94 215.07 L743.79 214.77 L744.64 214.47 L745.49 214.17 L746.33 213.87 L747.18 213.57 L748.03 213.27 L748.88 212.97 L749.73 212.67 L750.57 212.37 L751.42 212.07 L752.27 211.77 L753.12 211.47 L753.97 211.17 L754.81 210.86 L755.66 210.56 L756.51 210.26 L757.36 209.96 L758.21 209.66 L759.06 209.36 L759.90 209.06 L760.75 208.76 L761.60 208.46 L762.45 208.16 L763.30 207.86 L764.14 207.56 L764.99 207.26 L765.84 206.96 L766.69 206.65 L767.54 206.35 L768.38 206.05 L769.23 205.75 L770.08 205.45 L770.93 205.15 L771.78 204.85 L772.62 204.55 L773.47 204.25 L774.32 203.94 L775.17 203.64 L776.02 203.34 L776.86 203.04 L777.71 202.74 L778.56 202.44 L779.41 202.14 L780.26 201.84 L781.11 201.53 L781.95 201.23 L782.80 200.93 L783.65 200.63 L784.50 200.33 L785.35 200.03 L786.19 199.73 L787.04 199.42 L787.89 199.12 L788.74 198.82 L789.59 198.52 L790.43 198.22 L791.28 197.92 L792.13 197.61 L792.98 197.31 L793.83 197.01 L794.67 196.71 L795.52 196.41 L796.37 196.10 L797.22 195.80 L798.07 195.50 L798.91 195.20 L799.76 194.90 L800.61 194.59 L801.46 194.29 L802.31 193.99 L803.15 193.69 L804.00 193.39 L804.85 193.08 L805.70 192.78 L806.55 192.48 L807.40 192.18 L808.24 191.88 L809.09 191.57 L809.94 191.27 L810.79 190.97 L811.64 190.67 L812.48 190.36 L813.33 190.06 L814.18 189.76 L815.03 189.46 L815.88 189.15 L816.30 189.00" stroke="#3163CE" stroke-width="3.0" stroke-dasharray="13.965 4.421" stroke-dashoffset="-1.1"/>
<path d="M89.66 11.80 L89.75 13.83 L89.82 15.27 L89.89 16.69 L89.95 18.11 L90.02 19.52 L90.09 20.91 L90.16 22.30 L90.22 23.68 L90.29 25.05 L90.36 26.41 L90.43 27.77 L90.49 29.11 L90.56 30.45 L90.63 31.77 L90.69 33.09 L90.76 34.40 L90.83 35.70 L90.90 37.00 L90.96 38.28 L91.03 39.56 L91.10 40.83 L91.17 42.09 L91.23 43.34 L91.30 44.59 L91.37 45.83 L91.44 47.06 L91.50 48.28 L91.57 49.50 L91.64 50.71 L91.70 51.91 L91.77 53.10 L91.84 54.29 L91.91 55.47 L91.97 56.64 L92.04 57.80 L92.11 58.96 L92.18 60.11 L92.24 61.26 L92.31 62.39 L92.38 63.52 L92.45 64.65 L92.51 65.77 L92.58 66.88 L92.65 67.98 L92.71 69.08 L92.78 70.17 L92.85 71.26 L92.92 72.33 L92.98 73.41 L93.05 74.47 L93.12 75.53 L93.19 76.59 L93.25 77.64 L93.32 78.68 L93.39 79.72 L93.46 80.75 L93.52 81.77 L93.59 82.79 L93.66 83.80 L93.73 84.81 L93.79 85.81 L93.86 86.81 L93.93 87.80 L93.99 88.79 L94.06 89.77 L94.13 90.74 L94.20 91.71 L94.26 92.67 L94.33 93.63 L94.40 94.59 L94.47 95.53 L94.53 96.48 L94.60 97.42 L94.67 98.35 L94.74 99.28 L94.80 100.20 L94.87 101.12 L94.94 102.03 L95.00 102.94 L95.07 103.84 L95.14 104.74 L95.21 105.63 L95.27 106.52 L95.34 107.41 L95.41 108.29 L95.48 109.16 L95.54 110.03 L95.61 110.90 L95.68 111.76 L95.75 112.62 L95.81 113.47 L95.88 114.32 L95.95 115.16 L96.01 116.00 L96.08 116.84 L96.15 117.67 L96.22 118.50 L96.28 119.32 L96.35 120.14 L96.42 120.95 L96.49 121.76 L96.55 122.57 L96.62 123.37 L96.69 124.17 L96.82 125.75 L96.96 127.32 L97.09 128.87 L97.23 130.41 L97.36 131.93 L97.50 133.44 L97.63 134.93 L97.77 136.41 L97.90 137.87 L98.04 139.32 L98.17 140.76 L98.30 142.18 L98.44 143.59 L98.57 144.99 L98.71 146.37 L98.84 147.74 L98.98 149.10 L99.11 150.44 L99.25 151.77 L99.38 153.09 L99.52 154.40 L99.65 155.70 L99.79 156.98 L99.92 158.25 L100.06 159.51 L100.19 160.76 L100.33 162.00 L100.46 163.23 L100.59 164.44 L100.73 165.65 L100.86 166.85 L101.00 168.03 L101.13 169.20 L101.27 170.37 L101.40 171.52 L101.54 172.67 L101.67 173.80 L101.81 174.93 L101.94 176.04 L102.08 177.15 L102.21 178.24 L102.35 179.33 L102.48 180.41 L102.61 181.48 L102.75 182.54 L102.88 183.59 L103.02 184.63 L103.15 185.66 L103.29 186.69 L103.42 187.71 L103.56 188.72 L103.69 189.72 L103.83 190.71 L103.96 191.69 L104.10 192.67 L104.23 193.64 L104.37 194.60 L104.50 195.55 L104.64 196.50 L104.77 197.44 L104.90 198.37 L105.04 199.29 L105.17 200.21 L105.31 201.11 L105.44 202.02 L105.58 202.91 L105.71 203.80 L105.85 204.68 L105.98 205.56 L106.12 206.42 L106.25 207.29 L106.39 208.14 L106.52 208.99 L106.66 209.83 L106.79 210.67 L106.93 211.49 L107.06 212.32 L107.19 213.13 L107.33 213.94 L107.46 214.75 L107.60 215.55 L107.73 216.34 L107.94 217.52 L108.14 218.69 L108.34 219.84 L108.54 220.98 L108.74 222.11 L108.95 223.22 L109.15 224.33 L109.35 225.42 L109.55 226.50 L109.75 227.57 L109.96 228.63 L110.16 229.67 L110.36 230.71 L110.56 231.74 L110.76 232.75 L110.97 233.75 L111.17 234.75 L111.37 235.73 L111.57 236.71 L111.77 237.67 L111.98 238.62 L112.18 239.57 L112.38 240.50 L112.58 241.43 L112.78 242.35 L112.99 243.25 L113.19 244.15 L113.39 245.04 L113.59 245.92 L113.79 246.80 L114.00 247.66 L114.20 248.51 L114.40 249.36 L114.60 250.20 L114.80 251.03 L115.01 251.86 L115.21 252.67 L115.41 253.48 L115.61 254.28 L115.81 255.07 L116.02 255.86 L116.22 256.63 L116.49 257.66 L116.76 258.67 L117.03 259.67 L117.30 260.66 L117.57 261.64 L117.84 262.60 L118.10 263.56 L118.37 264.50 L118.64 265.43 L118.91 266.35 L119.18 267.26 L119.45 268.16 L119.72 269.04 L119.99 269.92 L120.26 270.79 L120.53 271.64 L120.80 272.49 L121.07 273.33 L121.34 274.15 L121.61 274.97 L121.88 275.78 L122.15 276.58 L122.41 277.37 L122.68 278.15 L122.95 278.92 L123.22 279.69 L123.49 280.44 L123.83 281.38 L124.17 282.30 L124.50 283.20 L124.84 284.10 L125.18 284.98 L125.51 285.85 L125.85 286.71 L126.19 287.56 L126.52 288.39 L126.86 289.22 L127.20 290.03 L127.53 290.84 L127.87 291.63 L128.21 292.41 L128.54 293.18 L128.88 293.95 L129.22 294.70 L129.55 295.44 L129.89 296.17 L130.29 297.04 L130.70 297.89 L131.10 298.74 L131.51 299.56 L131.91 300.38 L132.31 301.18 L132.72 301.97 L133.12 302.75 L133.53 303.52 L133.93 304.28 L134.34 305.02 L134.74 305.76 L135.14 306.48 L135.55 307.20 L135.95 307.90 L136.36 308.59 L136.83 309.39 L137.30 310.17 L137.77 310.94 L138.24 311.69 L138.71 312.44 L139.18 313.17 L139.66 313.89 L140.13 314.60 L140.60 315.29 L141.07 315.98 L141.54 316.65 L142.01 317.31 L142.48 317.97 L143.02 318.70 L143.56 319.42 L144.10 320.12 L144.64 320.82 L145.18 321.50 L145.72 322.17 L146.26 322.82 L146.79 323.47 L147.33 324.10 L147.87 324.72 L148.41 325.33 L148.95 325.93 L149.56 326.59 L150.16 327.24 L150.77 327.88 L151.37 328.50 L151.98 329.11 L152.59 329.71 L153.19 330.30 L153.80 330.87 L154.40 331.44 L155.01 331.99 L155.62 332.53 L156.22 333.06 L156.90 333.64 L157.57 334.21 L158.24 334.76 L158.92 335.30 L159.59 335.83 L160.26 336.35 L160.94 336.86 L161.61 337.36 L162.28 337.84 L162.96 338.32 L163.63 338.78 L164.30 339.24 L164.98 339.68 L165.65 340.12 L166.39 340.59 L167.13 341.04 L167.87 341.49 L168.61 341.92 L169.36 342.35 L170.10 342.76 L170.84 343.17 L171.58 343.56 L172.32 343.95 L173.06 344.33 L173.80 344.69 L174.54 345.05 L175.28 345.40 L176.02 345.74 L176.76 346.07 L177.50 346.40 L178.25 346.71 L178.99 347.02 L179.79 347.35 L180.60 347.67 L181.52 348.02 L182.37 348.33 L183.21 348.64 L184.06 348.93 L184.91 349.22 L185.76 349.50 L186.61 349.77 L187.45 350.03 L188.30 350.28 L189.15 350.53 L190.00 350.77 L190.85 351.00 L191.69 351.22 L192.54 351.43 L193.39 351.64 L194.24 351.84 L195.09 352.04 L195.94 352.22 L196.78 352.40 L197.63 352.58 L198.48 352.75 L199.33 352.91 L200.18 353.06 L201.02 353.21 L201.87 353.36 L202.72 353.49 L203.57 353.63 L204.42 353.75 L205.26 353.87 L206.11 353.99 L206.96 354.10 L207.81 354.21 L208.66 354.31 L209.50 354.40 L210.35 354.49 L211.20 354.58 L212.05 354.66 L212.90 354.73 L213.74 354.81 L214.59 354.87 L215.44 354.94 L216.29 355.00 L217.14 355.05 L217.99 355.10 L218.83 355.15 L219.68 355.19 L220.53 355.23 L221.38 355.26 L222.23 355.29 L223.07 355.32 L223.92 355.34 L224.77 355.36 L225.62 355.38 L226.47 355.39 L227.31 355.40 L228.16 355.40 L229.01 355.40 L229.86 355.40 L230.71 355.40 L231.55 355.39 L232.40 355.38 L233.25 355.36 L234.10 355.35 L234.95 355.33 L235.79 355.30 L236.64 355.28 L237.49 355.25 L238.34 355.22 L239.19 355.18 L240.04 355.15 L240.88 355.11 L241.73 355.06 L242.58 355.02 L243.43 354.97 L244.28 354.92 L245.12 354.87 L245.97 354.81 L246.82 354.75 L247.67 354.69 L248.52 354.63 L249.36 354.56 L250.21 354.50 L251.06 354.43 L251.91 354.36 L252.76 354.28 L253.60 354.20 L254.45 354.13 L255.30 354.05 L256.15 353.96 L257.00 353.88 L257.84 353.79 L258.69 353.70 L259.54 353.61 L260.39 353.52 L261.24 353.42 L262.08 353.33 L262.93 353.23 L263.78 353.13 L264.63 353.03 L265.48 352.92 L266.33 352.82 L267.17 352.71 L268.02 352.60 L268.87 352.49 L269.72 352.38 L270.57 352.26 L271.41 352.15 L272.26 352.03 L273.11 351.91 L273.96 351.79 L274.81 351.66 L275.65 351.54 L276.50 351.42 L277.35 351.29 L278.20 351.16 L279.05 351.03 L279.89 350.90 L280.74 350.76 L281.59 350.63 L282.44 350.49 L283.29 350.36 L284.13 350.22 L284.98 350.08 L285.83 349.94 L286.68 349.79 L287.53 349.65 L288.38 349.50 L289.22 349.36 L290.07 349.21 L290.92 349.06 L291.77 348.91 L292.62 348.76 L293.46 348.61 L294.31 348.45 L295.16 348.30 L296.01 348.14 L296.86 347.98 L297.70 347.82 L298.55 347.66 L299.40 347.50 L300.25 347.34 L301.10 347.18 L301.94 347.01 L302.79 346.85 L303.64 346.68 L304.49 346.52 L305.34 346.35 L306.18 346.18 L307.03 346.01 L307.88 345.83 L308.73 345.66 L309.58 345.49 L310.43 345.31 L311.27 345.14 L312.12 344.96 L312.97 344.79 L313.82 344.61 L314.67 344.43 L315.51 344.25 L316.36 344.07 L317.21 343.88 L318.06 343.70 L318.91 343.52 L319.75 343.33 L320.60 343.15 L321.45 342.96 L322.30 342.77 L323.15 342.59 L323.99 342.40 L324.84 342.21 L325.69 342.02 L326.54 341.83 L327.39 341.63 L328.23 341.44 L329.08 341.25 L329.93 341.05 L330.78 340.86 L331.63 340.66 L332.47 340.47 L333.32 340.27 L334.17 340.07 L335.02 339.87 L335.87 339.67 L336.72 339.47 L337.56 339.27 L338.41 339.07 L339.26 338.87 L340.11 338.66 L340.96 338.46 L341.80 338.25 L342.65 338.05 L343.50 337.84 L344.35 337.64 L345.20 337.43 L346.04 337.22 L346.89 337.01 L347.74 336.81 L348.59 336.60 L349.44 336.39 L350.28 336.17 L351.13 335.96 L351.98 335.75 L352.83 335.54 L353.68 335.32 L354.52 335.11 L355.37 334.90 L356.22 334.68 L357.07 334.47 L357.92 334.25 L358.77 334.03 L359.61 333.82 L360.46 333.60 L361.31 333.38 L362.16 333.16 L363.01 332.94 L363.85 332.72 L364.70 332.50 L365.55 332.28 L366.40 332.06 L367.25 331.83 L368.09 331.61 L368.94 331.39 L369.79 331.17 L370.64 330.94 L371.49 330.72 L372.33 330.49 L373.18 330.27 L374.03 330.04 L374.88 329.81 L375.73 329.59 L376.57 329.36 L377.42 329.13 L378.27 328.90 L379.12 328.67 L379.97 328.44 L380.82 328.21 L381.66 327.98 L382.51 327.75 L383.36 327.52 L384.21 327.29 L385.06 327.06 L385.90 326.83 L386.75 326.59 L387.60 326.36 L388.45 326.13 L389.30 325.89 L390.14 325.66 L390.99 325.42 L391.84 325.19 L392.69 324.95 L393.54 324.71 L394.38 324.48 L395.23 324.24 L396.08 324.00 L396.93 323.77 L397.78 323.53 L398.62 323.29 L399.47 323.05 L400.32 322.81 L401.17 322.57 L402.02 322.33 L402.86 322.09 L403.71 321.85 L404.56 321.61 L405.41 321.37 L406.26 321.12 L407.11 320.88 L407.95 320.64 L408.80 320.40 L409.65 320.15 L410.50 319.91 L411.35 319.67 L412.19 319.42 L413.04 319.18 L413.89 318.93 L414.74 318.69 L415.59 318.44 L416.43 318.20 L417.28 317.95 L418.13 317.70 L418.98 317.46 L419.83 317.21 L420.67 316.96 L421.52 316.71 L422.37 316.46 L423.22 316.22 L424.07 315.97 L424.91 315.72 L425.76 315.47 L426.61 315.22 L427.46 314.97 L428.31 314.72 L429.16 314.47 L430.00 314.22 L430.85 313.97 L431.70 313.71 L432.55 313.46 L433.40 313.21 L434.24 312.96 L435.09 312.71 L435.94 312.45 L436.79 312.20 L437.64 311.95 L438.48 311.69 L439.33 311.44 L440.18 311.18 L441.03 310.93 L441.88 310.67 L442.72 310.42 L443.57 310.16 L444.42 309.91 L445.27 309.65 L446.12 309.40 L446.96 309.14 L447.81 308.88 L448.66 308.63 L449.51 308.37 L450.36 308.11 L451.20 307.86 L452.05 307.60 L452.90 307.34 L453.75 307.08 L454.60 306.82 L455.45 306.56 L456.29 306.31 L457.14 306.05 L457.99 305.79 L458.84 305.53 L459.69 305.27 L460.53 305.01 L461.38 304.75 L462.23 304.49 L463.08 304.22 L463.93 303.96 L464.77 303.70 L465.62 303.44 L466.47 303.18 L467.32 302.92 L468.17 302.66 L469.01 302.39 L469.86 302.13 L470.71 301.87 L471.56 301.60 L472.41 301.34 L473.25 301.08 L474.10 300.81 L474.95 300.55 L475.80 300.29 L476.65 300.02 L477.50 299.76 L478.34 299.49 L479.19 299.23 L480.04 298.96 L480.89 298.70 L481.74 298.43 L482.58 298.17 L483.43 297.90 L484.28 297.64 L485.13 297.37 L485.98 297.10 L486.82 296.84 L487.67 296.57 L488.52 296.30 L489.37 296.04 L490.22 295.77 L491.06 295.50 L491.91 295.23 L492.76 294.96 L493.61 294.70 L494.46 294.43 L495.30 294.16 L496.15 293.89 L497.00 293.62 L497.85 293.35 L498.70 293.09 L499.55 292.82 L500.39 292.55 L501.24 292.28 L502.09 292.01 L502.94 291.74 L503.79 291.47 L504.63 291.20 L505.48 290.93 L506.33 290.66 L507.18 290.39 L508.03 290.11 L508.87 289.84 L509.72 289.57 L510.57 289.30 L511.42 289.03 L512.27 288.76 L513.11 288.49 L513.96 288.21 L514.81 287.94 L515.66 287.67 L516.51 287.40 L517.35 287.12 L518.20 286.85 L519.05 286.58 L519.90 286.30 L520.75 286.03 L521.59 285.76 L522.44 285.48 L523.29 285.21 L524.14 284.94 L524.99 284.66 L525.84 284.39 L526.68 284.11 L527.53 283.84 L528.38 283.57 L529.23 283.29 L530.08 283.02 L530.92 282.74 L531.77 282.47 L532.62 282.19 L533.47 281.92 L534.32 281.64 L535.16 281.36 L536.01 281.09 L536.86 280.81 L537.71 280.54 L538.56 280.26 L539.40 279.98 L540.25 279.71 L541.10 279.43 L541.95 279.15 L542.80 278.88 L543.64 278.60 L544.49 278.32 L545.34 278.05 L546.19 277.77 L547.04 277.49 L547.89 277.21 L548.73 276.94 L549.58 276.66 L550.43 276.38 L551.28 276.10 L552.13 275.82 L552.97 275.55 L553.82 275.27 L554.67 274.99 L555.52 274.71 L556.37 274.43 L557.21 274.15 L558.06 273.87 L558.91 273.59 L559.76 273.32 L560.61 273.04 L561.45 272.76 L562.30 272.48 L563.15 272.20 L564.00 271.92 L564.85 271.64 L565.69 271.36 L566.54 271.08 L567.39 270.80 L568.24 270.52 L569.09 270.24 L569.94 269.96 L570.78 269.68 L571.63 269.39 L572.48 269.11 L573.33 268.83 L574.18 268.55 L575.02 268.27 L575.87 267.99 L576.72 267.71 L577.57 267.43 L578.42 267.14 L579.26 266.86 L580.11 266.58 L580.96 266.30 L581.81 266.02 L582.66 265.73 L583.50 265.45 L584.35 265.17 L585.20 264.89 L586.05 264.60 L586.90 264.32 L587.74 264.04 L588.59 263.76 L589.44 263.47 L590.29 263.19 L591.14 262.91 L591.98 262.62 L592.83 262.34 L593.68 262.06 L594.53 261.77 L595.38 261.49 L596.23 261.21 L597.07 260.92 L597.92 260.64 L598.77 260.35 L599.62 260.07 L600.47 259.79 L601.31 259.50 L602.16 259.22 L603.01 258.93 L603.86 258.65 L604.71 258.36 L605.55 258.08 L606.40 257.79 L607.25 257.51 L608.10 257.22 L608.95 256.94 L609.79 256.65 L610.64 256.37 L611.49 256.08 L612.34 255.80 L613.19 255.51 L614.03 255.23 L614.88 254.94 L615.73 254.66 L616.58 254.37 L617.43 254.08 L618.28 253.80 L619.12 253.51 L619.97 253.23 L620.82 252.94 L621.67 252.65 L622.52 252.37 L623.36 252.08 L624.21 251.79 L625.06 251.51 L625.91 251.22 L626.76 250.93 L627.60 250.65 L628.45 250.36 L629.30 250.07 L630.15 249.79 L631.00 249.50 L631.84 249.21 L632.69 248.92 L633.54 248.64 L634.39 248.35 L635.24 248.06 L636.08 247.77 L636.93 247.49 L637.78 247.20 L638.63 246.91 L639.48 246.62 L640.33 246.33 L641.17 246.05 L642.02 245.76 L642.87 245.47 L643.72 245.18 L644.57 244.89 L645.41 244.60 L646.26 244.32 L647.11 244.03 L647.96 243.74 L648.81 243.45 L649.65 243.16 L650.50 242.87 L651.35 242.58 L652.20 242.29 L653.05 242.00 L653.89 241.72 L654.74 241.43 L655.59 241.14 L656.44 240.85 L657.29 240.56 L658.13 240.27 L658.98 239.98 L659.83 239.69 L660.68 239.40 L661.53 239.11 L662.37 238.82 L663.22 238.53 L664.07 238.24 L664.92 237.95 L665.77 237.66 L666.62 237.37 L667.46 237.08 L668.31 236.79 L669.16 236.50 L670.01 236.21 L670.86 235.92 L671.70 235.63 L672.55 235.34 L673.40 235.05 L674.25 234.76 L675.10 234.47 L675.94 234.17 L676.79 233.88 L677.64 233.59 L678.49 233.30 L679.34 233.01 L680.18 232.72 L681.03 232.43 L681.88 232.14 L682.73 231.85 L683.58 231.55 L684.42 231.26 L685.27 230.97 L686.12 230.68 L686.97 230.39 L687.82 230.10 L688.67 229.80 L689.51 229.51 L690.36 229.22 L691.21 228.93 L692.06 228.64 L692.91 228.35 L693.75 228.05 L694.60 227.76 L695.45 227.47 L696.30 227.18 L697.15 226.88 L697.99 226.59 L698.84 226.30 L699.69 226.01 L700.54 225.71 L701.39 225.42 L702.23 225.13 L703.08 224.84 L703.93 224.54 L704.78 224.25 L705.63 223.96 L706.47 223.67 L707.32 223.37 L708.17 223.08 L709.02 222.79 L709.87 222.49 L710.72 222.20 L711.56 221.91 L712.41 221.61 L713.26 221.32 L714.11 221.03 L714.96 220.73 L715.80 220.44 L716.65 220.15 L717.50 219.85 L718.35 219.56 L719.20 219.27 L720.04 218.97 L720.89 218.68 L721.74 218.38 L722.59 218.09 L723.44 217.80 L724.28 217.50 L725.13 217.21 L725.98 216.92 L726.83 216.62 L727.68 216.33 L728.52 216.03 L729.37 215.74 L730.22 215.44 L731.07 215.15 L731.92 214.86 L732.76 214.56 L733.61 214.27 L734.46 213.97 L735.31 213.68 L736.16 213.38 L737.01 213.09 L737.85 212.79 L738.70 212.50 L739.55 212.20 L740.40 211.91 L741.25 211.61 L742.09 211.32 L742.94 211.02 L743.79 210.73 L744.64 210.43 L745.49 210.14 L746.33 209.84 L747.18 209.55 L748.03 209.25 L748.88 208.96 L749.73 208.66 L750.57 208.37 L751.42 208.07 L752.27 207.78 L753.12 207.48 L753.97 207.19 L754.81 206.89 L755.66 206.59 L756.51 206.30 L757.36 206.00 L758.21 205.71 L759.06 205.41 L759.90 205.12 L760.75 204.82 L761.60 204.52 L762.45 204.23 L763.30 203.93 L764.14 203.64 L764.99 203.34 L765.84 203.04 L766.69 202.75 L767.54 202.45 L768.38 202.16 L769.23 201.86 L770.08 201.56 L770.93 201.27 L771.78 200.97 L772.62 200.67 L773.47 200.38 L774.32 200.08 L775.17 199.78 L776.02 199.49 L776.86 199.19 L777.71 198.89 L778.56 198.60 L779.41 198.30 L780.26 198.00 L781.11 197.71 L781.95 197.41 L782.80 197.11 L783.65 196.82 L784.50 196.52 L785.35 196.22 L786.19 195.93 L787.04 195.63 L787.89 195.33 L788.74 195.03 L789.59 194.74 L790.43 194.44 L791.28 194.14 L792.13 193.84 L792.98 193.55 L793.83 193.25 L794.67 192.95 L795.52 192.66 L796.37 192.36 L797.22 192.06 L798.07 191.76 L798.91 191.47 L799.76 191.17 L800.61 190.87 L801.46 190.57 L802.31 190.27 L803.15 189.98 L804.00 189.68 L804.85 189.38 L805.70 189.08 L806.55 188.79 L807.40 188.49 L808.24 188.19 L809.09 187.89 L809.94 187.59 L810.79 187.30 L811.64 187.00 L812.48 186.70 L813.33 186.40 L814.18 186.10 L815.03 185.80 L815.88 185.51 L816.30 185.36" stroke="#FF9B00" stroke-width="3.0" stroke-dasharray="4.823 4.371" stroke-dashoffset="-0.15"/>
<path d="M89.98 473.80 L90.02 471.40 L90.09 467.60 L90.16 463.86 L90.22 460.18 L90.29 456.55 L90.36 452.98 L90.43 449.47 L90.49 446.01 L90.56 442.60 L90.63 439.24 L90.69 435.94 L90.76 432.68 L90.83 429.48 L90.90 426.32 L90.96 423.21 L91.03 420.15 L91.10 417.13 L91.17 414.16 L91.23 411.23 L91.30 408.35 L91.37 405.51 L91.44 402.72 L91.50 399.96 L91.57 397.25 L91.64 394.58 L91.70 391.95 L91.77 389.35 L91.84 386.80 L91.91 384.28 L91.97 381.81 L92.04 379.37 L92.11 376.96 L92.18 374.59 L92.24 372.26 L92.31 369.96 L92.38 367.70 L92.45 365.46 L92.51 363.27 L92.58 361.10 L92.65 358.97 L92.71 356.87 L92.78 354.80 L92.85 352.76 L92.92 350.75 L92.98 348.77 L93.05 346.82 L93.12 344.90 L93.19 343.01 L93.25 341.14 L93.32 339.30 L93.39 337.49 L93.46 335.71 L93.52 333.95 L93.59 332.22 L93.66 330.52 L93.73 328.84 L93.79 327.18 L93.86 325.55 L93.93 323.94 L93.99 322.36 L94.06 320.80 L94.13 319.27 L94.20 317.75 L94.26 316.26 L94.33 314.79 L94.40 313.34 L94.47 311.92 L94.53 310.51 L94.60 309.13 L94.67 307.76 L94.74 306.42 L94.80 305.10 L94.87 303.79 L94.94 302.51 L95.00 301.24 L95.07 299.99 L95.14 298.77 L95.21 297.56 L95.27 296.36 L95.34 295.19 L95.41 294.03 L95.48 292.89 L95.54 291.77 L95.61 290.67 L95.68 289.58 L95.75 288.50 L95.81 287.45 L95.88 286.41 L95.95 285.38 L96.01 284.37 L96.08 283.38 L96.15 282.40 L96.22 281.43 L96.28 280.48 L96.35 279.54 L96.42 278.62 L96.49 277.71 L96.55 276.82 L96.62 275.94 L96.69 275.07 L96.76 274.22 L96.82 273.38 L96.89 272.55 L96.96 271.73 L97.03 270.93 L97.16 269.36 L97.29 267.84 L97.43 266.36 L97.56 264.93 L97.70 263.55 L97.83 262.21 L97.97 260.91 L98.10 259.65 L98.24 258.43 L98.37 257.25 L98.51 256.11 L98.64 255.00 L98.78 253.93 L98.91 252.89 L99.05 251.89 L99.18 250.92 L99.31 249.98 L99.45 249.08 L99.58 248.20 L99.72 247.35 L99.85 246.54 L99.99 245.75 L100.19 244.61 L100.39 243.54 L100.59 242.52 L100.80 241.56 L101.00 240.65 L101.20 239.80 L101.40 238.99 L101.67 237.98 L101.94 237.06 L102.21 236.21 L102.48 235.43 L102.82 234.55 L103.15 233.77 L103.56 232.96 L104.03 232.17 L104.57 231.46 L105.17 230.88 L105.91 230.45 L106.72 230.30 L107.53 230.42 L108.27 230.74 L108.95 231.18 L109.62 231.75 L110.23 232.36 L110.76 232.97 L111.30 233.63 L111.84 234.35 L112.31 235.01 L112.78 235.71 L113.26 236.43 L113.73 237.18 L114.20 237.95 L114.67 238.74 L115.07 239.43 L115.48 240.14 L115.88 240.86 L116.29 241.58 L116.69 242.32 L117.09 243.06 L117.50 243.81 L117.90 244.57 L118.31 245.33 L118.71 246.10 L119.11 246.87 L119.52 247.64 L119.92 248.42 L120.33 249.19 L120.73 249.97 L121.14 250.75 L121.54 251.53 L121.94 252.31 L122.35 253.09 L122.75 253.87 L123.16 254.65 L123.56 255.42 L123.96 256.20 L124.37 256.97 L124.77 257.74 L125.18 258.50 L125.58 259.27 L125.98 260.03 L126.39 260.78 L126.79 261.54 L127.20 262.29 L127.60 263.03 L128.00 263.77 L128.41 264.51 L128.81 265.25 L129.22 265.97 L129.62 266.70 L130.03 267.42 L130.43 268.13 L130.83 268.84 L131.24 269.55 L131.64 270.25 L132.05 270.95 L132.45 271.64 L132.92 272.44 L133.39 273.23 L133.86 274.01 L134.34 274.79 L134.81 275.56 L135.28 276.33 L135.75 277.09 L136.22 277.84 L136.69 278.58 L137.16 279.31 L137.64 280.04 L138.11 280.76 L138.58 281.48 L139.05 282.18 L139.52 282.88 L139.99 283.58 L140.46 284.26 L140.94 284.94 L141.41 285.61 L141.88 286.28 L142.35 286.93 L142.82 287.59 L143.36 288.32 L143.90 289.05 L144.44 289.76 L144.98 290.47 L145.51 291.17 L146.05 291.86 L146.59 292.55 L147.13 293.22 L147.67 293.89 L148.21 294.55 L148.75 295.19 L149.29 295.84 L149.83 296.47 L150.36 297.09 L150.90 297.71 L151.44 298.32 L151.98 298.92 L152.52 299.52 L153.13 300.17 L153.73 300.82 L154.34 301.46 L154.94 302.09 L155.55 302.72 L156.16 303.33 L156.76 303.93 L157.37 304.53 L157.97 305.11 L158.58 305.69 L159.19 306.26 L159.79 306.82 L160.40 307.37 L161.00 307.92 L161.61 308.45 L162.22 308.98 L162.89 309.56 L163.56 310.13 L164.24 310.69 L164.91 311.24 L165.58 311.78 L166.26 312.31 L166.93 312.83 L167.60 313.34 L168.28 313.85 L168.95 314.35 L169.63 314.83 L170.30 315.31 L170.97 315.79 L171.65 316.25 L172.32 316.71 L172.99 317.16 L173.67 317.60 L174.34 318.03 L175.08 318.50 L175.82 318.96 L176.56 319.41 L177.30 319.85 L178.04 320.29 L178.78 320.71 L179.53 321.13 L180.27 321.54 L181.09 321.99 L181.94 322.44 L182.79 322.88 L183.64 323.31 L184.49 323.73 L185.33 324.14 L186.18 324.54 L187.03 324.93 L187.88 325.31 L188.73 325.69 L189.57 326.06 L190.42 326.41 L191.27 326.76 L192.12 327.10 L192.97 327.44 L193.82 327.76 L194.66 328.08 L195.51 328.39 L196.36 328.69 L197.21 328.99 L198.06 329.28 L198.90 329.56 L199.75 329.83 L200.60 330.10 L201.45 330.36 L202.30 330.61 L203.14 330.86 L203.99 331.10 L204.84 331.33 L205.69 331.56 L206.54 331.78 L207.38 332.00 L208.23 332.21 L209.08 332.41 L209.93 332.61 L210.78 332.80 L211.62 332.99 L212.47 333.17 L213.32 333.35 L214.17 333.52 L215.02 333.69 L215.86 333.85 L216.71 334.00 L217.56 334.15 L218.41 334.30 L219.26 334.44 L220.11 334.58 L220.95 334.71 L221.80 334.84 L222.65 334.96 L223.50 335.08 L224.35 335.19 L225.19 335.30 L226.04 335.41 L226.89 335.51 L227.74 335.60 L228.59 335.70 L229.43 335.78 L230.28 335.87 L231.13 335.95 L231.98 336.03 L232.83 336.10 L233.67 336.17 L234.52 336.24 L235.37 336.30 L236.22 336.36 L237.07 336.41 L237.91 336.46 L238.76 336.51 L239.61 336.55 L240.46 336.60 L241.31 336.63 L242.16 336.67 L243.00 336.70 L243.85 336.73 L244.70 336.75 L245.55 336.78 L246.40 336.79 L247.24 336.81 L248.09 336.82 L248.94 336.83 L249.79 336.84 L250.64 336.84 L251.48 336.85 L252.33 336.85 L253.18 336.84 L254.03 336.83 L254.88 336.83 L255.72 336.81 L256.57 336.80 L257.42 336.78 L258.27 336.76 L259.12 336.74 L259.96 336.72 L260.81 336.69 L261.66 336.66 L262.51 336.63 L263.36 336.59 L264.21 336.56 L265.05 336.52 L265.90 336.48 L266.75 336.43 L267.60 336.39 L268.45 336.34 L269.29 336.29 L270.14 336.24 L270.99 336.18 L271.84 336.13 L272.69 336.07 L273.53 336.01 L274.38 335.95 L275.23 335.88 L276.08 335.82 L276.93 335.75 L277.77 335.68 L278.62 335.61 L279.47 335.53 L280.32 335.46 L281.17 335.38 L282.01 335.30 L282.86 335.22 L283.71 335.14 L284.56 335.05 L285.41 334.97 L286.25 334.88 L287.10 334.79 L287.95 334.70 L288.80 334.60 L289.65 334.51 L290.50 334.41 L291.34 334.31 L292.19 334.21 L293.04 334.11 L293.89 334.01 L294.74 333.91 L295.58 333.80 L296.43 333.69 L297.28 333.59 L298.13 333.48 L298.98 333.36 L299.82 333.25 L300.67 333.14 L301.52 333.02 L302.37 332.90 L303.22 332.78 L304.06 332.66 L304.91 332.54 L305.76 332.42 L306.61 332.30 L307.46 332.17 L308.30 332.04 L309.15 331.92 L310.00 331.79 L310.85 331.66 L311.70 331.53 L312.55 331.39 L313.39 331.26 L314.24 331.12 L315.09 330.99 L315.94 330.85 L316.79 330.71 L317.63 330.57 L318.48 330.43 L319.33 330.29 L320.18 330.14 L321.03 330.00 L321.87 329.85 L322.72 329.71 L323.57 329.56 L324.42 329.41 L325.27 329.26 L326.11 329.11 L326.96 328.96 L327.81 328.81 L328.66 328.65 L329.51 328.50 L330.35 328.34 L331.20 328.18 L332.05 328.03 L332.90 327.87 L333.75 327.71 L334.60 327.55 L335.44 327.38 L336.29 327.22 L337.14 327.06 L337.99 326.89 L338.84 326.73 L339.68 326.56 L340.53 326.39 L341.38 326.23 L342.23 326.06 L343.08 325.89 L343.92 325.72 L344.77 325.54 L345.62 325.37 L346.47 325.20 L347.32 325.02 L348.16 324.85 L349.01 324.67 L349.86 324.50 L350.71 324.32 L351.56 324.14 L352.40 323.96 L353.25 323.78 L354.10 323.60 L354.95 323.42 L355.80 323.24 L356.64 323.06 L357.49 322.87 L358.34 322.69 L359.19 322.50 L360.04 322.32 L360.89 322.13 L361.73 321.94 L362.58 321.76 L363.43 321.57 L364.28 321.38 L365.13 321.19 L365.97 321.00 L366.82 320.80 L367.67 320.61 L368.52 320.42 L369.37 320.23 L370.21 320.03 L371.06 319.84 L371.91 319.64 L372.76 319.45 L373.61 319.25 L374.45 319.05 L375.30 318.85 L376.15 318.66 L377.00 318.46 L377.85 318.26 L378.69 318.06 L379.54 317.86 L380.39 317.65 L381.24 317.45 L382.09 317.25 L382.94 317.05 L383.78 316.84 L384.63 316.64 L385.48 316.43 L386.33 316.23 L387.18 316.02 L388.02 315.81 L388.87 315.61 L389.72 315.40 L390.57 315.19 L391.42 314.98 L392.26 314.77 L393.11 314.56 L393.96 314.35 L394.81 314.14 L395.66 313.93 L396.50 313.72 L397.35 313.50 L398.20 313.29 L399.05 313.08 L399.90 312.86 L400.74 312.65 L401.59 312.43 L402.44 312.22 L403.29 312.00 L404.14 311.78 L404.99 311.57 L405.83 311.35 L406.68 311.13 L407.53 310.91 L408.38 310.69 L409.23 310.47 L410.07 310.25 L410.92 310.03 L411.77 309.81 L412.62 309.59 L413.47 309.37 L414.31 309.15 L415.16 308.93 L416.01 308.70 L416.86 308.48 L417.71 308.25 L418.55 308.03 L419.40 307.81 L420.25 307.58 L421.10 307.36 L421.95 307.13 L422.79 306.90 L423.64 306.68 L424.49 306.45 L425.34 306.22 L426.19 305.99 L427.03 305.77 L427.88 305.54 L428.73 305.31 L429.58 305.08 L430.43 304.85 L431.28 304.62 L432.12 304.39 L432.97 304.16 L433.82 303.92 L434.67 303.69 L435.52 303.46 L436.36 303.23 L437.21 302.99 L438.06 302.76 L438.91 302.53 L439.76 302.29 L440.60 302.06 L441.45 301.82 L442.30 301.59 L443.15 301.35 L444.00 301.12 L444.84 300.88 L445.69 300.65 L446.54 300.41 L447.39 300.17 L448.24 299.93 L449.08 299.70 L449.93 299.46 L450.78 299.22 L451.63 298.98 L452.48 298.74 L453.33 298.50 L454.17 298.26 L455.02 298.02 L455.87 297.78 L456.72 297.54 L457.57 297.30 L458.41 297.06 L459.26 296.82 L460.11 296.58 L460.96 296.33 L461.81 296.09 L462.65 295.85 L463.50 295.61 L464.35 295.36 L465.20 295.12 L466.05 294.87 L466.89 294.63 L467.74 294.39 L468.59 294.14 L469.44 293.90 L470.29 293.65 L471.13 293.40 L471.98 293.16 L472.83 292.91 L473.68 292.67 L474.53 292.42 L475.38 292.17 L476.22 291.92 L477.07 291.68 L477.92 291.43 L478.77 291.18 L479.62 290.93 L480.46 290.68 L481.31 290.44 L482.16 290.19 L483.01 289.94 L483.86 289.69 L484.70 289.44 L485.55 289.19 L486.40 288.94 L487.25 288.69 L488.10 288.43 L488.94 288.18 L489.79 287.93 L490.64 287.68 L491.49 287.43 L492.34 287.18 L493.18 286.92 L494.03 286.67 L494.88 286.42 L495.73 286.16 L496.58 285.91 L497.42 285.66 L498.27 285.40 L499.12 285.15 L499.97 284.90 L500.82 284.64 L501.67 284.39 L502.51 284.13 L503.36 283.88 L504.21 283.62 L505.06 283.36 L505.91 283.11 L506.75 282.85 L507.60 282.60 L508.45 282.34 L509.30 282.08 L510.15 281.83 L510.99 281.57 L511.84 281.31 L512.69 281.05 L513.54 280.80 L514.39 280.54 L515.23 280.28 L516.08 280.02 L516.93 279.76 L517.78 279.50 L518.63 279.25 L519.47 278.99 L520.32 278.73 L521.17 278.47 L522.02 278.21 L522.87 277.95 L523.72 277.69 L524.56 277.43 L525.41 277.17 L526.26 276.91 L527.11 276.64 L527.96 276.38 L528.80 276.12 L529.65 275.86 L530.50 275.60 L531.35 275.34 L532.20 275.07 L533.04 274.81 L533.89 274.55 L534.74 274.29 L535.59 274.02 L536.44 273.76 L537.28 273.50 L538.13 273.24 L538.98 272.97 L539.83 272.71 L540.68 272.44 L541.52 272.18 L542.37 271.92 L543.22 271.65 L544.07 271.39 L544.92 271.12 L545.77 270.86 L546.61 270.59 L547.46 270.33 L548.31 270.06 L549.16 269.80 L550.01 269.53 L550.85 269.26 L551.70 269.00 L552.55 268.73 L553.40 268.47 L554.25 268.20 L555.09 267.93 L555.94 267.67 L556.79 267.40 L557.64 267.13 L558.49 266.86 L559.33 266.60 L560.18 266.33 L561.03 266.06 L561.88 265.79 L562.73 265.52 L563.57 265.26 L564.42 264.99 L565.27 264.72 L566.12 264.45 L566.97 264.18 L567.81 263.91 L568.66 263.64 L569.51 263.37 L570.36 263.10 L571.21 262.84 L572.06 262.57 L572.90 262.30 L573.75 262.03 L574.60 261.76 L575.45 261.48 L576.30 261.21 L577.14 260.94 L577.99 260.67 L578.84 260.40 L579.69 260.13 L580.54 259.86 L581.38 259.59 L582.23 259.32 L583.08 259.05 L583.93 258.77 L584.78 258.50 L585.62 258.23 L586.47 257.96 L587.32 257.69 L588.17 257.41 L589.02 257.14 L589.86 256.87 L590.71 256.60 L591.56 256.32 L592.41 256.05 L593.26 255.78 L594.11 255.50 L594.95 255.23 L595.80 254.96 L596.65 254.68 L597.50 254.41 L598.35 254.14 L599.19 253.86 L600.04 253.59 L600.89 253.31 L601.74 253.04 L602.59 252.76 L603.43 252.49 L604.28 252.21 L605.13 251.94 L605.98 251.66 L606.83 251.39 L607.67 251.11 L608.52 250.84 L609.37 250.56 L610.22 250.29 L611.07 250.01 L611.91 249.74 L612.76 249.46 L613.61 249.18 L614.46 248.91 L615.31 248.63 L616.15 248.36 L617.00 248.08 L617.85 247.80 L618.70 247.53 L619.55 247.25 L620.40 246.97 L621.24 246.70 L622.09 246.42 L622.94 246.14 L623.79 245.86 L624.64 245.59 L625.48 245.31 L626.33 245.03 L627.18 244.75 L628.03 244.48 L628.88 244.20 L629.72 243.92 L630.57 243.64 L631.42 243.36 L632.27 243.08 L633.12 242.81 L633.96 242.53 L634.81 242.25 L635.66 241.97 L636.51 241.69 L637.36 241.41 L638.20 241.13 L639.05 240.85 L639.90 240.57 L640.75 240.29 L641.60 240.02 L642.45 239.74 L643.29 239.46 L644.14 239.18 L644.99 238.90 L645.84 238.62 L646.69 238.34 L647.53 238.06 L648.38 237.78 L649.23 237.50 L650.08 237.21 L650.93 236.93 L651.77 236.65 L652.62 236.37 L653.47 236.09 L654.32 235.81 L655.17 235.53 L656.01 235.25 L656.86 234.97 L657.71 234.69 L658.56 234.41 L659.41 234.12 L660.25 233.84 L661.10 233.56 L661.95 233.28 L662.80 233.00 L663.65 232.71 L664.50 232.43 L665.34 232.15 L666.19 231.87 L667.04 231.59 L667.89 231.30 L668.74 231.02 L669.58 230.74 L670.43 230.46 L671.28 230.17 L672.13 229.89 L672.98 229.61 L673.82 229.33 L674.67 229.04 L675.52 228.76 L676.37 228.48 L677.22 228.19 L678.06 227.91 L678.91 227.63 L679.76 227.34 L680.61 227.06 L681.46 226.78 L682.30 226.49 L683.15 226.21 L684.00 225.92 L684.85 225.64 L685.70 225.36 L686.54 225.07 L687.39 224.79 L688.24 224.50 L689.09 224.22 L689.94 223.93 L690.79 223.65 L691.63 223.36 L692.48 223.08 L693.33 222.80 L694.18 222.51 L695.03 222.23 L695.87 221.94 L696.72 221.66 L697.57 221.37 L698.42 221.09 L699.27 220.80 L700.11 220.51 L700.96 220.23 L701.81 219.94 L702.66 219.66 L703.51 219.37 L704.35 219.09 L705.20 218.80 L706.05 218.52 L706.90 218.23 L707.75 217.94 L708.59 217.66 L709.44 217.37 L710.29 217.08 L711.14 216.80 L711.99 216.51 L712.84 216.23 L713.68 215.94 L714.53 215.65 L715.38 215.37 L716.23 215.08 L717.08 214.79 L717.92 214.51 L718.77 214.22 L719.62 213.93 L720.47 213.64 L721.32 213.36 L722.16 213.07 L723.01 212.78 L723.86 212.50 L724.71 212.21 L725.56 211.92 L726.40 211.63 L727.25 211.35 L728.10 211.06 L728.95 210.77 L729.80 210.48 L730.64 210.20 L731.49 209.91 L732.34 209.62 L733.19 209.33 L734.04 209.04 L734.89 208.76 L735.73 208.47 L736.58 208.18 L737.43 207.89 L738.28 207.60 L739.13 207.31 L739.97 207.03 L740.82 206.74 L741.67 206.45 L742.52 206.16 L743.37 205.87 L744.21 205.58 L745.06 205.29 L745.91 205.00 L746.76 204.71 L747.61 204.43 L748.45 204.14 L749.30 203.85 L750.15 203.56 L751.00 203.27 L751.85 202.98 L752.69 202.69 L753.54 202.40 L754.39 202.11 L755.24 201.82 L756.09 201.53 L756.93 201.24 L757.78 200.95 L758.63 200.66 L759.48 200.37 L760.33 200.08 L761.18 199.79 L762.02 199.50 L762.87 199.21 L763.72 198.92 L764.57 198.63 L765.42 198.34 L766.26 198.05 L767.11 197.76 L767.96 197.47 L768.81 197.18 L769.66 196.89 L770.50 196.60 L771.35 196.31 L772.20 196.02 L773.05 195.73 L773.90 195.44 L774.74 195.15 L775.59 194.86 L776.44 194.56 L777.29 194.27 L778.14 193.98 L778.98 193.69 L779.83 193.40 L780.68 193.11 L781.53 192.82 L782.38 192.53 L783.23 192.24 L784.07 191.94 L784.92 191.65 L785.77 191.36 L786.62 191.07 L787.47 190.78 L788.31 190.49 L789.16 190.19 L790.01 189.90 L790.86 189.61 L791.71 189.32 L792.55 189.03 L793.40 188.74 L794.25 188.44 L795.10 188.15 L795.95 187.86 L796.79 187.57 L797.64 187.28 L798.49 186.98 L799.34 186.69 L800.19 186.40 L801.03 186.11 L801.88 185.81 L802.73 185.52 L803.58 185.23 L804.43 184.94 L805.28 184.64 L806.12 184.35 L806.97 184.06 L807.82 183.77 L808.67 183.47 L809.52 183.18 L810.36 182.89 L811.21 182.59 L812.06 182.30 L812.91 182.01 L813.76 181.72 L814.60 181.42 L815.45 181.13 L816.30 180.84" stroke="#00981C" stroke-width="3.0" stroke-dasharray="13.993 4.329 4.832 4.429" stroke-dashoffset="0.6"/>
<path d="M152.42 473.80 L152.52 472.76 L152.65 471.29 L152.79 469.83 L152.92 468.39 L153.06 466.95 L153.19 465.52 L153.33 464.11 L153.46 462.71 L153.60 461.31 L153.73 459.93 L153.87 458.56 L154.00 457.19 L154.14 455.84 L154.27 454.50 L154.40 453.17 L154.54 451.84 L154.67 450.53 L154.81 449.23 L154.94 447.94 L155.08 446.65 L155.21 445.38 L155.35 444.11 L155.48 442.86 L155.62 441.61 L155.75 440.38 L155.89 439.15 L156.02 437.93 L156.16 436.72 L156.29 435.52 L156.43 434.33 L156.56 433.15 L156.69 431.97 L156.83 430.81 L156.96 429.65 L157.10 428.50 L157.23 427.36 L157.37 426.23 L157.50 425.11 L157.64 423.99 L157.77 422.88 L157.91 421.78 L158.04 420.69 L158.18 419.61 L158.31 418.53 L158.45 417.47 L158.58 416.41 L158.71 415.36 L158.85 414.31 L158.98 413.27 L159.12 412.24 L159.25 411.22 L159.39 410.21 L159.52 409.20 L159.66 408.20 L159.79 407.21 L159.93 406.22 L160.06 405.24 L160.20 404.27 L160.33 403.31 L160.47 402.35 L160.60 401.40 L160.74 400.46 L160.87 399.52 L161.00 398.59 L161.14 397.66 L161.27 396.75 L161.41 395.84 L161.54 394.93 L161.68 394.04 L161.81 393.14 L161.95 392.26 L162.08 391.38 L162.22 390.51 L162.35 389.64 L162.49 388.78 L162.62 387.93 L162.76 387.08 L162.89 386.24 L163.03 385.40 L163.16 384.57 L163.29 383.75 L163.43 382.93 L163.56 382.12 L163.70 381.31 L163.83 380.51 L163.97 379.71 L164.10 378.92 L164.30 377.75 L164.51 376.58 L164.71 375.43 L164.91 374.30 L165.11 373.17 L165.31 372.06 L165.52 370.95 L165.72 369.86 L165.92 368.78 L166.12 367.71 L166.33 366.66 L166.53 365.61 L166.73 364.58 L166.93 363.55 L167.13 362.54 L167.34 361.53 L167.54 360.54 L167.74 359.56 L167.94 358.58 L168.14 357.62 L168.35 356.67 L168.55 355.73 L168.75 354.79 L168.95 353.87 L169.15 352.95 L169.36 352.05 L169.56 351.15 L169.76 350.27 L169.96 349.39 L170.16 348.52 L170.37 347.66 L170.57 346.81 L170.77 345.97 L170.97 345.14 L171.17 344.31 L171.38 343.50 L171.58 342.69 L171.78 341.89 L171.98 341.10 L172.18 340.31 L172.39 339.54 L172.66 338.52 L172.93 337.51 L173.19 336.51 L173.46 335.53 L173.73 334.56 L174.00 333.61 L174.27 332.67 L174.54 331.74 L174.81 330.82 L175.08 329.91 L175.35 329.02 L175.62 328.14 L175.89 327.27 L176.16 326.41 L176.43 325.57 L176.70 324.73 L176.97 323.91 L177.24 323.10 L177.50 322.30 L177.77 321.50 L178.04 320.72 L178.31 319.95 L178.58 319.19 L178.92 318.26 L179.26 317.34 L179.59 316.43 L179.93 315.54 L180.27 314.66 L180.60 313.80 L181.09 312.57 L181.52 311.53 L181.94 310.52 L182.37 309.52 L182.79 308.54 L183.21 307.59 L183.64 306.65 L184.06 305.73 L184.49 304.84 L184.91 303.96 L185.33 303.09 L185.76 302.25 L186.18 301.42 L186.61 300.61 L187.03 299.82 L187.45 299.04 L187.88 298.28 L188.30 297.54 L188.73 296.81 L189.15 296.09 L189.57 295.39 L190.00 294.71 L190.85 293.37 L191.69 292.10 L192.54 290.87 L193.39 289.70 L194.24 288.57 L195.09 287.49 L195.94 286.45 L196.78 285.45 L197.63 284.50 L198.48 283.58 L199.33 282.70 L200.18 281.85 L201.02 281.04 L201.87 280.27 L202.72 279.52 L203.57 278.81 L204.42 278.12 L205.26 277.47 L206.11 276.84 L206.96 276.23 L207.81 275.65 L208.66 275.10 L209.50 274.57 L210.35 274.06 L211.20 273.57 L212.05 273.10 L212.90 272.66 L213.74 272.23 L214.59 271.82 L215.44 271.42 L216.29 271.05 L217.14 270.69 L217.99 270.34 L218.83 270.02 L219.68 269.70 L220.53 269.40 L221.38 269.11 L222.23 268.84 L223.07 268.57 L223.92 268.32 L224.77 268.09 L225.62 267.86 L226.47 267.64 L227.31 267.43 L228.16 267.23 L229.01 267.04 L229.86 266.87 L230.71 266.69 L231.55 266.53 L232.40 266.38 L233.25 266.23 L234.10 266.09 L234.95 265.96 L235.79 265.83 L236.64 265.71 L237.49 265.60 L238.34 265.49 L239.19 265.39 L240.04 265.29 L240.88 265.20 L241.73 265.11 L242.58 265.03 L243.43 264.96 L244.28 264.88 L245.12 264.82 L245.97 264.75 L246.82 264.69 L247.67 264.64 L248.52 264.58 L249.36 264.53 L250.21 264.49 L251.06 264.44 L251.91 264.40 L252.76 264.37 L253.60 264.33 L254.45 264.30 L255.30 264.27 L256.15 264.24 L257.00 264.21 L257.84 264.19 L258.69 264.17 L259.54 264.15 L260.39 264.13 L261.24 264.11 L262.08 264.10 L262.93 264.08 L263.78 264.07 L264.63 264.06 L265.48 264.05 L266.33 264.04 L267.17 264.03 L268.02 264.03 L268.87 264.02 L269.72 264.02 L270.57 264.01 L271.41 264.01 L272.26 264.00 L273.11 264.00 L273.96 264.00 L274.81 264.00 L275.65 264.00 L276.50 264.00 L277.35 263.99 L278.20 263.99 L279.05 263.99 L279.89 263.99 L280.74 263.99 L281.59 263.99 L282.44 263.99 L283.29 263.99 L284.13 263.99 L284.98 263.99 L285.83 263.99 L286.68 263.99 L287.53 263.99 L288.38 263.99 L289.22 263.99 L290.07 263.99 L290.92 263.99 L291.77 263.98 L292.62 263.98 L293.46 263.98 L294.31 263.98 L295.16 263.97 L296.01 263.97 L296.86 263.96 L297.70 263.96 L298.55 263.95 L299.40 263.94 L300.25 263.94 L301.10 263.93 L301.94 263.92 L302.79 263.91 L303.64 263.90 L304.49 263.89 L305.34 263.88 L306.18 263.87 L307.03 263.86 L307.88 263.85 L308.73 263.83 L309.58 263.82 L310.43 263.80 L311.27 263.79 L312.12 263.77 L312.97 263.75 L313.82 263.74 L314.67 263.72 L315.51 263.70 L316.36 263.68 L317.21 263.66 L318.06 263.63 L318.91 263.61 L319.75 263.59 L320.60 263.56 L321.45 263.54 L322.30 263.51 L323.15 263.48 L323.99 263.45 L324.84 263.42 L325.69 263.39 L326.54 263.36 L327.39 263.33 L328.23 263.30 L329.08 263.27 L329.93 263.23 L330.78 263.20 L331.63 263.16 L332.47 263.12 L333.32 263.09 L334.17 263.05 L335.02 263.01 L335.87 262.97 L336.72 262.92 L337.56 262.88 L338.41 262.84 L339.26 262.79 L340.11 262.75 L340.96 262.70 L341.80 262.65 L342.65 262.61 L343.50 262.56 L344.35 262.51 L345.20 262.46 L346.04 262.40 L346.89 262.35 L347.74 262.30 L348.59 262.24 L349.44 262.19 L350.28 262.13 L351.13 262.07 L351.98 262.02 L352.83 261.96 L353.68 261.90 L354.52 261.84 L355.37 261.77 L356.22 261.71 L357.07 261.65 L357.92 261.58 L358.77 261.52 L359.61 261.45 L360.46 261.38 L361.31 261.31 L362.16 261.25 L363.01 261.17 L363.85 261.10 L364.70 261.03 L365.55 260.96 L366.40 260.89 L367.25 260.81 L368.09 260.74 L368.94 260.66 L369.79 260.58 L370.64 260.50 L371.49 260.42 L372.33 260.34 L373.18 260.26 L374.03 260.18 L374.88 260.10 L375.73 260.02 L376.57 259.93 L377.42 259.85 L378.27 259.76 L379.12 259.67 L379.97 259.59 L380.82 259.50 L381.66 259.41 L382.51 259.32 L383.36 259.23 L384.21 259.14 L385.06 259.04 L385.90 258.95 L386.75 258.86 L387.60 258.76 L388.45 258.66 L389.30 258.57 L390.14 258.47 L390.99 258.37 L391.84 258.27 L392.69 258.17 L393.54 258.07 L394.38 257.97 L395.23 257.87 L396.08 257.76 L396.93 257.66 L397.78 257.55 L398.62 257.45 L399.47 257.34 L400.32 257.24 L401.17 257.13 L402.02 257.02 L402.86 256.91 L403.71 256.80 L404.56 256.69 L405.41 256.58 L406.26 256.46 L407.11 256.35 L407.95 256.24 L408.80 256.12 L409.65 256.01 L410.50 255.89 L411.35 255.77 L412.19 255.66 L413.04 255.54 L413.89 255.42 L414.74 255.30 L415.59 255.18 L416.43 255.06 L417.28 254.93 L418.13 254.81 L418.98 254.69 L419.83 254.56 L420.67 254.44 L421.52 254.31 L422.37 254.19 L423.22 254.06 L424.07 253.93 L424.91 253.80 L425.76 253.67 L426.61 253.54 L427.46 253.41 L428.31 253.28 L429.16 253.15 L430.00 253.02 L430.85 252.89 L431.70 252.75 L432.55 252.62 L433.40 252.48 L434.24 252.35 L435.09 252.21 L435.94 252.07 L436.79 251.94 L437.64 251.80 L438.48 251.66 L439.33 251.52 L440.18 251.38 L441.03 251.24 L441.88 251.10 L442.72 250.95 L443.57 250.81 L444.42 250.67 L445.27 250.52 L446.12 250.38 L446.96 250.23 L447.81 250.09 L448.66 249.94 L449.51 249.79 L450.36 249.65 L451.20 249.50 L452.05 249.35 L452.90 249.20 L453.75 249.05 L454.60 248.90 L455.45 248.75 L456.29 248.60 L457.14 248.44 L457.99 248.29 L458.84 248.14 L459.69 247.98 L460.53 247.83 L461.38 247.67 L462.23 247.52 L463.08 247.36 L463.93 247.21 L464.77 247.05 L465.62 246.89 L466.47 246.73 L467.32 246.57 L468.17 246.41 L469.01 246.25 L469.86 246.09 L470.71 245.93 L471.56 245.77 L472.41 245.61 L473.25 245.44 L474.10 245.28 L474.95 245.12 L475.80 244.95 L476.65 244.79 L477.50 244.62 L478.34 244.46 L479.19 244.29 L480.04 244.12 L480.89 243.96 L481.74 243.79 L482.58 243.62 L483.43 243.45 L484.28 243.28 L485.13 243.11 L485.98 242.94 L486.82 242.77 L487.67 242.60 L488.52 242.43 L489.37 242.25 L490.22 242.08 L491.06 241.91 L491.91 241.73 L492.76 241.56 L493.61 241.39 L494.46 241.21 L495.30 241.03 L496.15 240.86 L497.00 240.68 L497.85 240.50 L498.70 240.33 L499.55 240.15 L500.39 239.97 L501.24 239.79 L502.09 239.61 L502.94 239.43 L503.79 239.25 L504.63 239.07 L505.48 238.89 L506.33 238.71 L507.18 238.53 L508.03 238.34 L508.87 238.16 L509.72 237.98 L510.57 237.79 L511.42 237.61 L512.27 237.43 L513.11 237.24 L513.96 237.05 L514.81 236.87 L515.66 236.68 L516.51 236.50 L517.35 236.31 L518.20 236.12 L519.05 235.93 L519.90 235.74 L520.75 235.56 L521.59 235.37 L522.44 235.18 L523.29 234.99 L524.14 234.80 L524.99 234.61 L525.84 234.42 L526.68 234.22 L527.53 234.03 L528.38 233.84 L529.23 233.65 L530.08 233.45 L530.92 233.26 L531.77 233.07 L532.62 232.87 L533.47 232.68 L534.32 232.48 L535.16 232.29 L536.01 232.09 L536.86 231.89 L537.71 231.70 L538.56 231.50 L539.40 231.30 L540.25 231.11 L541.10 230.91 L541.95 230.71 L542.80 230.51 L543.64 230.31 L544.49 230.11 L545.34 229.91 L546.19 229.71 L547.04 229.51 L547.89 229.31 L548.73 229.11 L549.58 228.91 L550.43 228.71 L551.28 228.50 L552.13 228.30 L552.97 228.10 L553.82 227.89 L554.67 227.69 L555.52 227.49 L556.37 227.28 L557.21 227.08 L558.06 226.87 L558.91 226.67 L559.76 226.46 L560.61 226.26 L561.45 226.05 L562.30 225.84 L563.15 225.64 L564.00 225.43 L564.85 225.22 L565.69 225.01 L566.54 224.80 L567.39 224.60 L568.24 224.39 L569.09 224.18 L569.94 223.97 L570.78 223.76 L571.63 223.55 L572.48 223.34 L573.33 223.13 L574.18 222.92 L575.02 222.70 L575.87 222.49 L576.72 222.28 L577.57 222.07 L578.42 221.86 L579.26 221.64 L580.11 221.43 L580.96 221.22 L581.81 221.00 L582.66 220.79 L583.50 220.57 L584.35 220.36 L585.20 220.14 L586.05 219.93 L586.90 219.71 L587.74 219.50 L588.59 219.28 L589.44 219.06 L590.29 218.85 L591.14 218.63 L591.98 218.41 L592.83 218.20 L593.68 217.98 L594.53 217.76 L595.38 217.54 L596.23 217.32 L597.07 217.10 L597.92 216.88 L598.77 216.66 L599.62 216.45 L600.47 216.23 L601.31 216.00 L602.16 215.78 L603.01 215.56 L603.86 215.34 L604.71 215.12 L605.55 214.90 L606.40 214.68 L607.25 214.46 L608.10 214.23 L608.95 214.01 L609.79 213.79 L610.64 213.56 L611.49 213.34 L612.34 213.12 L613.19 212.89 L614.03 212.67 L614.88 212.44 L615.73 212.22 L616.58 211.99 L617.43 211.77 L618.28 211.54 L619.12 211.32 L619.97 211.09 L620.82 210.87 L621.67 210.64 L622.52 210.41 L623.36 210.19 L624.21 209.96 L625.06 209.73 L625.91 209.50 L626.76 209.28 L627.60 209.05 L628.45 208.82 L629.30 208.59 L630.15 208.36 L631.00 208.13 L631.84 207.90 L632.69 207.67 L633.54 207.44 L634.39 207.21 L635.24 206.98 L636.08 206.75 L636.93 206.52 L637.78 206.29 L638.63 206.06 L639.48 205.83 L640.33 205.60 L641.17 205.37 L642.02 205.13 L642.87 204.90 L643.72 204.67 L644.57 204.44 L645.41 204.20 L646.26 203.97 L647.11 203.74 L647.96 203.50 L648.81 203.27 L649.65 203.04 L650.50 202.80 L651.35 202.57 L652.20 202.33 L653.05 202.10 L653.89 201.86 L654.74 201.63 L655.59 201.39 L656.44 201.16 L657.29 200.92 L658.13 200.68 L658.98 200.45 L659.83 200.21 L660.68 199.97 L661.53 199.74 L662.37 199.50 L663.22 199.26 L664.07 199.03 L664.92 198.79 L665.77 198.55 L666.62 198.31 L667.46 198.07 L668.31 197.84 L669.16 197.60 L670.01 197.36 L670.86 197.12 L671.70 196.88 L672.55 196.64 L673.40 196.40 L674.25 196.16 L675.10 195.92 L675.94 195.68 L676.79 195.44 L677.64 195.20 L678.49 194.96 L679.34 194.72 L680.18 194.48 L681.03 194.24 L681.88 193.99 L682.73 193.75 L683.58 193.51 L684.42 193.27 L685.27 193.03 L686.12 192.78 L686.97 192.54 L687.82 192.30 L688.67 192.06 L689.51 191.81 L690.36 191.57 L691.21 191.33 L692.06 191.08 L692.91 190.84 L693.75 190.59 L694.60 190.35 L695.45 190.11 L696.30 189.86 L697.15 189.62 L697.99 189.37 L698.84 189.13 L699.69 188.88 L700.54 188.64 L701.39 188.39 L702.23 188.14 L703.08 187.90 L703.93 187.65 L704.78 187.41 L705.63 187.16 L706.47 186.91 L707.32 186.67 L708.17 186.42 L709.02 186.17 L709.87 185.92 L710.72 185.68 L711.56 185.43 L712.41 185.18 L713.26 184.93 L714.11 184.69 L714.96 184.44 L715.80 184.19 L716.65 183.94 L717.50 183.69 L718.35 183.44 L719.20 183.19 L720.04 182.95 L720.89 182.70 L721.74 182.45 L722.59 182.20 L723.44 181.95 L724.28 181.70 L725.13 181.45 L725.98 181.20 L726.83 180.95 L727.68 180.70 L728.52 180.45 L729.37 180.19 L730.22 179.94 L731.07 179.69 L731.92 179.44 L732.76 179.19 L733.61 178.94 L734.46 178.69 L735.31 178.43 L736.16 178.18 L737.01 177.93 L737.85 177.68 L738.70 177.43 L739.55 177.17 L740.40 176.92 L741.25 176.67 L742.09 176.41 L742.94 176.16 L743.79 175.91 L744.64 175.65 L745.49 175.40 L746.33 175.15 L747.18 174.89 L748.03 174.64 L748.88 174.39 L749.73 174.13 L750.57 173.88 L751.42 173.62 L752.27 173.37 L753.12 173.11 L753.97 172.86 L754.81 172.60 L755.66 172.35 L756.51 172.09 L757.36 171.84 L758.21 171.58 L759.06 171.32 L759.90 171.07 L760.75 170.81 L761.60 170.56 L762.45 170.30 L763.30 170.04 L764.14 169.79 L764.99 169.53 L765.84 169.27 L766.69 169.02 L767.54 168.76 L768.38 168.50 L769.23 168.25 L770.08 167.99 L770.93 167.73 L771.78 167.47 L772.62 167.21 L773.47 166.96 L774.32 166.70 L775.17 166.44 L776.02 166.18 L776.86 165.92 L777.71 165.66 L778.56 165.41 L779.41 165.15 L780.26 164.89 L781.11 164.63 L781.95 164.37 L782.80 164.11 L783.65 163.85 L784.50 163.59 L785.35 163.33 L786.19 163.07 L787.04 162.81 L787.89 162.55 L788.74 162.29 L789.59 162.03 L790.43 161.77 L791.28 161.51 L792.13 161.25 L792.98 160.99 L793.83 160.73 L794.67 160.47 L795.52 160.21 L796.37 159.95 L797.22 159.68 L798.07 159.42 L798.91 159.16 L799.76 158.90 L800.61 158.64 L801.46 158.38 L802.31 158.11 L803.15 157.85 L804.00 157.59 L804.85 157.33 L805.70 157.06 L806.55 156.80 L807.40 156.54 L808.24 156.28 L809.09 156.01 L809.94 155.75 L810.79 155.49 L811.64 155.22 L812.48 154.96 L813.33 154.70 L814.18 154.43 L815.03 154.17 L815.88 153.91 L816.30 153.77" stroke="#9152BA" stroke-width="3.0" stroke-dasharray="27.755 4.409" stroke-dashoffset="0.0"/>
</g>
<path d="M105.89 473.5 V468.30 M105.89 11.5 V17.30 M143.28 473.5 V468.30 M143.28 11.5 V17.30 M180.67 473.5 V468.30 M180.67 11.5 V17.30 M218.06 473.5 V468.30 M218.06 11.5 V17.30 M255.45 473.5 V464.80 M255.45 11.5 V20.80 M292.84 473.5 V468.30 M292.84 11.5 V17.30 M330.23 473.5 V468.30 M330.23 11.5 V17.30 M367.62 473.5 V468.30 M367.62 11.5 V17.30 M405.01 473.5 V468.30 M405.01 11.5 V17.30 M442.40 473.5 V464.80 M442.40 11.5 V20.80 M479.79 473.5 V468.30 M479.79 11.5 V17.30 M517.18 473.5 V468.30 M517.18 11.5 V17.30 M554.57 473.5 V468.30 M554.57 11.5 V17.30 M591.96 473.5 V468.30 M591.96 11.5 V17.30 M629.35 473.5 V464.80 M629.35 11.5 V20.80 M666.74 473.5 V468.30 M666.74 11.5 V17.30 M704.13 473.5 V468.30 M704.13 11.5 V17.30 M741.52 473.5 V468.30 M741.52 11.5 V17.30 M778.91 473.5 V468.30 M778.91 11.5 V17.30 M68.5 444.93 h5.4 M816.3 444.93 h-5.4 M68.5 416.05 h5.4 M816.3 416.05 h-5.4 M68.5 387.18 h5.4 M816.3 387.18 h-5.4 M68.5 358.50 h8.9 M816.3 358.50 h-8.9 M68.5 329.43 h5.4 M816.3 329.43 h-5.4 M68.5 300.55 h5.4 M816.3 300.55 h-5.4 M68.5 271.68 h5.4 M816.3 271.68 h-5.4 M68.5 242.50 h8.9 M816.3 242.50 h-8.9 M68.5 213.93 h5.4 M816.3 213.93 h-5.4 M68.5 185.05 h5.4 M816.3 185.05 h-5.4 M68.5 156.18 h5.4 M816.3 156.18 h-5.4 M68.5 127.50 h8.9 M816.3 127.50 h-8.9 M68.5 98.43 h5.4 M816.3 98.43 h-5.4 M68.5 69.55 h5.4 M816.3 69.55 h-5.4 M68.5 40.68 h5.4 M816.3 40.68 h-5.4" stroke="#686868" stroke-width="1" fill="none"/>
<rect x="68.5" y="11.5" width="747.8" height="462.0" fill="none" stroke="#686868" stroke-width="1"/>
<path d="M68.50 473.5 V464.80 M68.50 11.5 V20.80 M816.30 473.5 V464.80 M816.30 11.5 V20.80 M68.5 473.50 h8.9 M816.3 473.50 h-8.9 M68.5 11.50 h8.9 M816.3 11.50 h-8.9" stroke="#3c3c3c" stroke-width="1" fill="none"/>
<text transform="translate(68.30 500.00) scale(1 1.06)" font-size="21" letter-spacing="0" text-anchor="middle" font-family="Liberation Sans, sans-serif">0</text>
<text transform="translate(255.25 500.00) scale(1 1.06)" font-size="21" letter-spacing="0" text-anchor="middle" font-family="Liberation Sans, sans-serif">5</text>
<text transform="translate(441.65 500.00) scale(1 1.06)" font-size="21" letter-spacing="-0.5" text-anchor="middle" font-family="Liberation Sans, sans-serif">10</text>
<text transform="translate(628.60 500.00) scale(1 1.06)" font-size="21" letter-spacing="-0.5" text-anchor="middle" font-family="Liberation Sans, sans-serif">15</text>
<text transform="translate(815.55 500.00) scale(1 1.06)" font-size="21" letter-spacing="-0.5" text-anchor="middle" font-family="Liberation Sans, sans-serif">20</text>
<text transform="translate(61.40 480.90) scale(1 1.06)" font-size="21" letter-spacing="0" text-anchor="end" font-family="Liberation Sans, sans-serif">0</text>
<text transform="translate(61.40 365.90) scale(1 1.06)" font-size="21" letter-spacing="0" text-anchor="end" font-family="Liberation Sans, sans-serif">2</text>
<text transform="translate(61.40 249.90) scale(1 1.06)" font-size="21" letter-spacing="0" text-anchor="end" font-family="Liberation Sans, sans-serif">4</text>
<text transform="translate(61.40 134.90) scale(1 1.06)" font-size="21" letter-spacing="0" text-anchor="end" font-family="Liberation Sans, sans-serif">6</text>
<text transform="translate(61.40 18.90) scale(1 1.06)" font-size="21" letter-spacing="0" text-anchor="end" font-family="Liberation Sans, sans-serif">8</text>
<text transform="translate(1.6 253.9) skewX(-8.5)" font-size="33" font-style="italic" stroke="#000" stroke-width="0.3" font-family="Liberation Sans, sans-serif">T</text>
<text transform="translate(20.8 259.85) skewX(-8)" font-size="22.5" font-style="italic" stroke="#000" stroke-width="0.3" font-family="Liberation Sans, sans-serif">h</text>
<text transform="translate(431.65 549.6) skewX(-8)" font-size="32.3" font-style="italic" stroke="#000" stroke-width="0.3" font-family="Liberation Sans, sans-serif">r</text>
<text transform="translate(441.9 555.65) skewX(-8)" font-size="22.5" font-style="italic" stroke="#000" stroke-width="0.3" font-family="Liberation Sans, sans-serif">h</text>
<rect x="592.8" y="291.5" width="214.6" height="172.7" rx="12" ry="12" fill="#fff" stroke="#000" stroke-width="3.2"/>
<path d="M605.3 315.35 H674.7" stroke="#CA3300" stroke-width="3" fill="none"/>
<path d="M606.9 346.2 H673.3" stroke="#3163CE" stroke-width="3" stroke-dasharray="13.9 4.4" fill="none"/>
<path d="M606.9 377.0 H673.3" stroke="#FF9B00" stroke-width="3" stroke-dasharray="4.8 4.35" fill="none"/>
<path d="M606.9 406.55 H673.3" stroke="#00981C" stroke-width="3" stroke-dasharray="13.9 4.3 4.8 4.4" fill="none"/>
<path d="M606.9 437.65 H673.3" stroke="#9152BA" stroke-width="3" stroke-dasharray="27.7 4.4" fill="none"/>
<text transform="translate(683.55 318.8) skewX(-7)" font-size="16" font-style="italic" stroke="#000" stroke-width="0.2" font-family="Liberation Sans, sans-serif">n</text>
<path d="M701.30 313.00 h7.7 M701.30 316.50 h7.7" stroke="#000" stroke-width="1.4" fill="none"/>
<text transform="translate(720.05 318.8) skewX(-7)" font-size="16" font-style="italic" stroke="#000" stroke-width="0.2" font-family="Liberation Sans, sans-serif">n</text>
<text transform="translate(728.4 321.50) skewX(-8)" font-size="11.5" font-style="italic" font-family="Liberation Sans, sans-serif">c</text><text transform="translate(733.25 324.90) scale(1 1.06)" font-size="12" font-family="Liberation Sans, sans-serif">2</text>
<text transform="translate(683.55 349.5) skewX(-7)" font-size="16" font-style="italic" stroke="#000" stroke-width="0.2" font-family="Liberation Sans, sans-serif">n</text>
<text transform="translate(692.1 352.20) skewX(-8)" font-size="11.5" font-style="italic" font-family="Liberation Sans, sans-serif">c</text><text transform="translate(696.95 355.60) scale(1 1.06)" font-size="12" font-family="Liberation Sans, sans-serif">2</text>
<path d="M723.45 342.10 L717.00 345.35 L723.45 348.60" stroke="#000" stroke-width="1.3" stroke-linejoin="round" fill="none"/>
<text transform="translate(734.55 349.5) skewX(-7)" font-size="16" font-style="italic" stroke="#000" stroke-width="0.2" font-family="Liberation Sans, sans-serif">n</text>
<path d="M759.25 342.10 L752.80 345.35 L759.25 348.60" stroke="#000" stroke-width="1.3" stroke-linejoin="round" fill="none"/>
<text transform="translate(770.25 349.5) skewX(-7)" font-size="16" font-style="italic" stroke="#000" stroke-width="0.2" font-family="Liberation Sans, sans-serif">n</text>
<text x="778.35" y="352.30" font-size="11.5" font-family="Liberation Sans, sans-serif">hp</text>
<text transform="translate(683.55 380.5) skewX(-7)" font-size="16" font-style="italic" stroke="#000" stroke-width="0.2" font-family="Liberation Sans, sans-serif">n</text>
<path d="M701.25 374.70 h7.7 M701.25 378.20 h7.7" stroke="#000" stroke-width="1.4" fill="none"/>
<text transform="translate(720.0 380.5) skewX(-7)" font-size="16" font-style="italic" stroke="#000" stroke-width="0.2" font-family="Liberation Sans, sans-serif">n</text>
<text x="727.85" y="383.30" font-size="11.5" font-family="Liberation Sans, sans-serif">hp</text>
<text transform="translate(683.55 409.65) skewX(-7)" font-size="16" font-style="italic" stroke="#000" stroke-width="0.2" font-family="Liberation Sans, sans-serif">n</text>
<text x="691.35" y="412.45" font-size="11.5" font-family="Liberation Sans, sans-serif">hp</text>
<path d="M722.65 402.25 L716.20 405.50 L722.65 408.75" stroke="#000" stroke-width="1.3" stroke-linejoin="round" fill="none"/>
<text transform="translate(734.0 409.65) skewX(-7)" font-size="16" font-style="italic" stroke="#000" stroke-width="0.2" font-family="Liberation Sans, sans-serif">n</text>
<path d="M758.35 402.25 L751.90 405.50 L758.35 408.75" stroke="#000" stroke-width="1.3" stroke-linejoin="round" fill="none"/>
<text transform="translate(769.75 409.65) skewX(-7)" font-size="16" font-style="italic" stroke="#000" stroke-width="0.2" font-family="Liberation Sans, sans-serif">n</text>
<text transform="translate(778.3 412.35) skewX(-8)" font-size="11.5" font-style="italic" font-family="Liberation Sans, sans-serif">c</text><text transform="translate(783.15 415.75) scale(1 1.06)" font-size="11.7" font-family="Liberation Sans, sans-serif">3</text>
<text transform="translate(683.55 441.45) skewX(-7)" font-size="16" font-style="italic" stroke="#000" stroke-width="0.2" font-family="Liberation Sans, sans-serif">n</text>
<path d="M701.25 435.65 h7.7 M701.25 439.15 h7.7" stroke="#000" stroke-width="1.4" fill="none"/>
<text transform="translate(720.0 441.45) skewX(-7)" font-size="16" font-style="italic" stroke="#000" stroke-width="0.2" font-family="Liberation Sans, sans-serif">n</text>
<text transform="translate(728.4 444.15) skewX(-8)" font-size="11.5" font-style="italic" font-family="Liberation Sans, sans-serif">c</text><text transform="translate(733.25 447.55) scale(1 1.06)" font-size="11.7" font-family="Liberation Sans, sans-serif">3</text>
</svg>
</body></html>
